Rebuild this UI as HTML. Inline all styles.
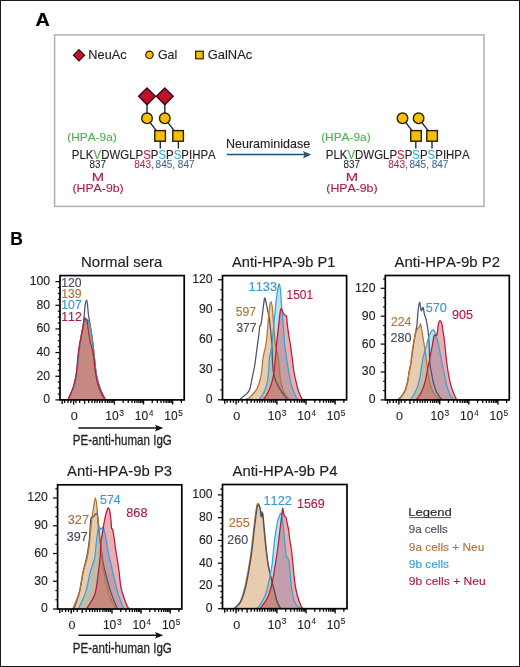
<!DOCTYPE html>
<html><head><meta charset="utf-8"><style>
html,body{margin:0;padding:0;background:#fff;}
body{width:520px;height:667px;overflow:hidden;}
svg{display:block;will-change:transform;font-family:"Liberation Sans",sans-serif;font-kerning:none;}
text{stroke:currentColor;}
</style></head><body>
<svg width="520" height="667" viewBox="0 0 520 667">
<rect x="0.5" y="0.5" width="519" height="666" fill="#fff" stroke="#1a1a1a" stroke-width="1"/>
<text x="35.61" y="25.60" font-size="18.60" fill="#000" color="#000" stroke-width="0.205" font-weight="bold" textLength="14.32" lengthAdjust="spacingAndGlyphs">A</text>
<rect x="54.6" y="34.9" width="429.4" height="171.5" fill="none" stroke="#b0b0b0" stroke-width="1.5"/>
<path d="M79 49.6 L84.6 55.2 L79 60.800000000000004 L73.4 55.2 Z" fill="#c0102e" stroke="#3a0a12" stroke-width="1.2"/>
<text x="88.35" y="58.60" font-size="12.40" fill="#231f20" color="#231f20" stroke-width="0.136" textLength="38.28" lengthAdjust="spacingAndGlyphs">NeuAc</text>
<circle cx="149.5" cy="54.8" r="3.7" fill="#f6c000" stroke="#2a1c08" stroke-width="1.2"/>
<text x="157.98" y="58.60" font-size="12.40" fill="#231f20" color="#231f20" stroke-width="0.136" textLength="19.25" lengthAdjust="spacingAndGlyphs">Gal</text>
<rect x="195.65" y="51.20" width="7.6" height="7.6" fill="#f6c000" stroke="#2a1c08" stroke-width="1.2"/>
<text x="207.75" y="58.60" font-size="12.40" fill="#231f20" color="#231f20" stroke-width="0.136" textLength="44.49" lengthAdjust="spacingAndGlyphs">GalNAc</text>
<line x1="147.0" y1="100" x2="147.0" y2="114" stroke="#1d2a3a" stroke-width="1.4"/>
<line x1="164.8" y1="100" x2="164.8" y2="114" stroke="#1d2a3a" stroke-width="1.4"/>
<line x1="147.0" y1="118.3" x2="160.1" y2="135.9" stroke="#1d2a3a" stroke-width="1.4"/>
<line x1="164.8" y1="118.3" x2="178.1" y2="135.9" stroke="#1d2a3a" stroke-width="1.4"/>
<line x1="160.3" y1="140" x2="160.3" y2="148.6" stroke="#1d2a3a" stroke-width="1.4"/>
<line x1="178.4" y1="140" x2="178.4" y2="148.6" stroke="#1d2a3a" stroke-width="1.4"/>
<path d="M147.0 87.89999999999999 L155.4 96.3 L147.0 104.7 L138.6 96.3 Z" fill="#c0102e" stroke="#3a0a12" stroke-width="1.4"/>
<path d="M164.8 87.89999999999999 L173.20000000000002 96.3 L164.8 104.7 L156.4 96.3 Z" fill="#c0102e" stroke="#3a0a12" stroke-width="1.4"/>
<circle cx="147.0" cy="118.3" r="5.3" fill="#f6c000" stroke="#2a1c08" stroke-width="1.4"/>
<circle cx="164.8" cy="118.3" r="5.3" fill="#f6c000" stroke="#2a1c08" stroke-width="1.4"/>
<rect x="154.80" y="130.60" width="10.6" height="10.6" fill="#f6c000" stroke="#2a1c08" stroke-width="1.4"/>
<rect x="172.80" y="130.60" width="10.6" height="10.6" fill="#f6c000" stroke="#2a1c08" stroke-width="1.4"/>
<text x="67.26" y="140.90" font-size="11.20" fill="#52ad4f" color="#52ad4f" stroke-width="0.123" textLength="49.47" lengthAdjust="spacingAndGlyphs">(HPA-9a)</text>
<text x="71.86" y="158.6" font-size="12.0" fill="#231f20" color="#231f20" stroke-width="0.132" textLength="7.64" lengthAdjust="spacingAndGlyphs">P</text>
<text x="79.50" y="158.6" font-size="12.0" fill="#231f20" color="#231f20" stroke-width="0.132" textLength="6.37" lengthAdjust="spacingAndGlyphs">L</text>
<text x="85.87" y="158.6" font-size="12.0" fill="#231f20" color="#231f20" stroke-width="0.132" textLength="7.64" lengthAdjust="spacingAndGlyphs">K</text>
<text x="93.51" y="158.6" font-size="12.0" fill="#52ad4f" color="#52ad4f" stroke-width="0.132" textLength="7.64" lengthAdjust="spacingAndGlyphs">V</text>
<text x="101.15" y="158.6" font-size="12.0" fill="#231f20" color="#231f20" stroke-width="0.132" textLength="8.27" lengthAdjust="spacingAndGlyphs">D</text>
<text x="109.42" y="158.6" font-size="12.0" fill="#231f20" color="#231f20" stroke-width="0.132" textLength="10.81" lengthAdjust="spacingAndGlyphs">W</text>
<text x="120.23" y="158.6" font-size="12.0" fill="#231f20" color="#231f20" stroke-width="0.132" textLength="8.91" lengthAdjust="spacingAndGlyphs">G</text>
<text x="129.14" y="158.6" font-size="12.0" fill="#231f20" color="#231f20" stroke-width="0.132" textLength="6.37" lengthAdjust="spacingAndGlyphs">L</text>
<text x="135.51" y="158.6" font-size="12.0" fill="#231f20" color="#231f20" stroke-width="0.132" textLength="7.64" lengthAdjust="spacingAndGlyphs">P</text>
<text x="143.15" y="158.6" font-size="12.0" fill="#bf2c4c" color="#bf2c4c" stroke-width="0.132" textLength="7.64" lengthAdjust="spacingAndGlyphs">S</text>
<text x="150.79" y="158.6" font-size="12.0" fill="#231f20" color="#231f20" stroke-width="0.132" textLength="7.64" lengthAdjust="spacingAndGlyphs">P</text>
<text x="158.43" y="158.6" font-size="12.0" fill="#44abd8" color="#44abd8" stroke-width="0.132" textLength="7.64" lengthAdjust="spacingAndGlyphs">S</text>
<text x="166.07" y="158.6" font-size="12.0" fill="#231f20" color="#231f20" stroke-width="0.132" textLength="7.64" lengthAdjust="spacingAndGlyphs">P</text>
<text x="173.71" y="158.6" font-size="12.0" fill="#44abd8" color="#44abd8" stroke-width="0.132" textLength="7.64" lengthAdjust="spacingAndGlyphs">S</text>
<text x="181.35" y="158.6" font-size="12.0" fill="#231f20" color="#231f20" stroke-width="0.132" textLength="7.64" lengthAdjust="spacingAndGlyphs">P</text>
<text x="188.99" y="158.6" font-size="12.0" fill="#231f20" color="#231f20" stroke-width="0.132" textLength="3.18" lengthAdjust="spacingAndGlyphs">I</text>
<text x="192.17" y="158.6" font-size="12.0" fill="#231f20" color="#231f20" stroke-width="0.132" textLength="8.27" lengthAdjust="spacingAndGlyphs">H</text>
<text x="200.44" y="158.6" font-size="12.0" fill="#231f20" color="#231f20" stroke-width="0.132" textLength="7.64" lengthAdjust="spacingAndGlyphs">P</text>
<text x="208.08" y="158.6" font-size="12.0" fill="#231f20" color="#231f20" stroke-width="0.132" textLength="7.64" lengthAdjust="spacingAndGlyphs">A</text>
<text x="89.57" y="168.30" font-size="10.20" fill="#231f20" color="#231f20" stroke-width="0.060" textLength="16.53" lengthAdjust="spacingAndGlyphs">837</text>
<text x="134.26" y="168.30" font-size="10.20" fill="#bb2a4c" color="#bb2a4c" stroke-width="0.060" textLength="19.65" lengthAdjust="spacingAndGlyphs">843,</text>
<text x="155.57" y="168.30" font-size="10.20" fill="#3d6690" color="#3d6690" stroke-width="0.060" textLength="38.94" lengthAdjust="spacingAndGlyphs">845, 847</text>
<text x="91.89" y="181.10" font-size="11.20" fill="#aa1c44" color="#aa1c44" stroke-width="0.123" textLength="12.33" lengthAdjust="spacingAndGlyphs">M</text>
<text x="72.44" y="191.70" font-size="11.40" fill="#aa1c44" color="#aa1c44" stroke-width="0.125" textLength="51.22" lengthAdjust="spacingAndGlyphs">(HPA-9b)</text>
<line x1="402.5" y1="118.3" x2="416.0" y2="135.9" stroke="#1d2a3a" stroke-width="1.4"/>
<line x1="418.6" y1="118.3" x2="432.1" y2="135.9" stroke="#1d2a3a" stroke-width="1.4"/>
<line x1="415.8" y1="140" x2="415.8" y2="148.6" stroke="#1d2a3a" stroke-width="1.4"/>
<line x1="432.0" y1="140" x2="432.0" y2="148.6" stroke="#1d2a3a" stroke-width="1.4"/>
<circle cx="402.5" cy="118.3" r="5.3" fill="#f6c000" stroke="#2a1c08" stroke-width="1.4"/>
<circle cx="418.6" cy="118.3" r="5.3" fill="#f6c000" stroke="#2a1c08" stroke-width="1.4"/>
<rect x="410.70" y="130.60" width="10.6" height="10.6" fill="#f6c000" stroke="#2a1c08" stroke-width="1.4"/>
<rect x="426.80" y="130.60" width="10.6" height="10.6" fill="#f6c000" stroke="#2a1c08" stroke-width="1.4"/>
<text x="321.16" y="140.90" font-size="11.20" fill="#52ad4f" color="#52ad4f" stroke-width="0.123" textLength="49.47" lengthAdjust="spacingAndGlyphs">(HPA-9a)</text>
<text x="325.76" y="158.6" font-size="12.0" fill="#231f20" color="#231f20" stroke-width="0.132" textLength="7.64" lengthAdjust="spacingAndGlyphs">P</text>
<text x="333.40" y="158.6" font-size="12.0" fill="#231f20" color="#231f20" stroke-width="0.132" textLength="6.37" lengthAdjust="spacingAndGlyphs">L</text>
<text x="339.77" y="158.6" font-size="12.0" fill="#231f20" color="#231f20" stroke-width="0.132" textLength="7.64" lengthAdjust="spacingAndGlyphs">K</text>
<text x="347.41" y="158.6" font-size="12.0" fill="#52ad4f" color="#52ad4f" stroke-width="0.132" textLength="7.64" lengthAdjust="spacingAndGlyphs">V</text>
<text x="355.05" y="158.6" font-size="12.0" fill="#231f20" color="#231f20" stroke-width="0.132" textLength="8.27" lengthAdjust="spacingAndGlyphs">D</text>
<text x="363.32" y="158.6" font-size="12.0" fill="#231f20" color="#231f20" stroke-width="0.132" textLength="10.81" lengthAdjust="spacingAndGlyphs">W</text>
<text x="374.13" y="158.6" font-size="12.0" fill="#231f20" color="#231f20" stroke-width="0.132" textLength="8.91" lengthAdjust="spacingAndGlyphs">G</text>
<text x="383.04" y="158.6" font-size="12.0" fill="#231f20" color="#231f20" stroke-width="0.132" textLength="6.37" lengthAdjust="spacingAndGlyphs">L</text>
<text x="389.41" y="158.6" font-size="12.0" fill="#231f20" color="#231f20" stroke-width="0.132" textLength="7.64" lengthAdjust="spacingAndGlyphs">P</text>
<text x="397.05" y="158.6" font-size="12.0" fill="#bf2c4c" color="#bf2c4c" stroke-width="0.132" textLength="7.64" lengthAdjust="spacingAndGlyphs">S</text>
<text x="404.69" y="158.6" font-size="12.0" fill="#231f20" color="#231f20" stroke-width="0.132" textLength="7.64" lengthAdjust="spacingAndGlyphs">P</text>
<text x="412.33" y="158.6" font-size="12.0" fill="#44abd8" color="#44abd8" stroke-width="0.132" textLength="7.64" lengthAdjust="spacingAndGlyphs">S</text>
<text x="419.97" y="158.6" font-size="12.0" fill="#231f20" color="#231f20" stroke-width="0.132" textLength="7.64" lengthAdjust="spacingAndGlyphs">P</text>
<text x="427.61" y="158.6" font-size="12.0" fill="#44abd8" color="#44abd8" stroke-width="0.132" textLength="7.64" lengthAdjust="spacingAndGlyphs">S</text>
<text x="435.25" y="158.6" font-size="12.0" fill="#231f20" color="#231f20" stroke-width="0.132" textLength="7.64" lengthAdjust="spacingAndGlyphs">P</text>
<text x="442.89" y="158.6" font-size="12.0" fill="#231f20" color="#231f20" stroke-width="0.132" textLength="3.18" lengthAdjust="spacingAndGlyphs">I</text>
<text x="446.07" y="158.6" font-size="12.0" fill="#231f20" color="#231f20" stroke-width="0.132" textLength="8.27" lengthAdjust="spacingAndGlyphs">H</text>
<text x="454.34" y="158.6" font-size="12.0" fill="#231f20" color="#231f20" stroke-width="0.132" textLength="7.64" lengthAdjust="spacingAndGlyphs">P</text>
<text x="461.98" y="158.6" font-size="12.0" fill="#231f20" color="#231f20" stroke-width="0.132" textLength="7.64" lengthAdjust="spacingAndGlyphs">A</text>
<text x="343.47" y="168.30" font-size="10.20" fill="#231f20" color="#231f20" stroke-width="0.060" textLength="16.53" lengthAdjust="spacingAndGlyphs">837</text>
<text x="388.16" y="168.30" font-size="10.20" fill="#bb2a4c" color="#bb2a4c" stroke-width="0.060" textLength="19.65" lengthAdjust="spacingAndGlyphs">843,</text>
<text x="409.47" y="168.30" font-size="10.20" fill="#3d6690" color="#3d6690" stroke-width="0.060" textLength="38.94" lengthAdjust="spacingAndGlyphs">845, 847</text>
<text x="345.79" y="181.10" font-size="11.20" fill="#aa1c44" color="#aa1c44" stroke-width="0.123" textLength="12.33" lengthAdjust="spacingAndGlyphs">M</text>
<text x="326.34" y="191.70" font-size="11.40" fill="#aa1c44" color="#aa1c44" stroke-width="0.125" textLength="51.22" lengthAdjust="spacingAndGlyphs">(HPA-9b)</text>
<text x="225.97" y="148.10" font-size="12.80" fill="#231f20" color="#231f20" stroke-width="0.141" textLength="84.18" lengthAdjust="spacingAndGlyphs">Neuraminidase</text>
<line x1="226.8" y1="154.5" x2="306" y2="154.5" stroke="#1f4e79" stroke-width="1.6"/>
<path d="M302.6 150.9 L311.2 154.5 L302.8 158.5 L304.9 154.5 Z" fill="#1f4e79"/>
<text x="10.14" y="244.80" font-size="18.40" fill="#000" color="#000" stroke-width="0.202" font-weight="bold" textLength="12.55" lengthAdjust="spacingAndGlyphs">B</text>
<path d="M68.40 399.90 C68.88 398.77 70.33 395.52 71.30 393.10 C72.27 390.68 73.32 388.62 74.20 385.40 C75.08 382.18 75.95 378.13 76.60 373.80 C77.25 369.47 77.65 363.53 78.10 359.40 C78.55 355.27 78.85 352.40 79.30 349.00 C79.75 345.60 80.25 342.33 80.80 339.00 C81.35 335.67 82.00 331.83 82.60 329.00 C83.20 326.17 83.87 323.57 84.40 322.00 C84.93 320.43 85.37 320.07 85.80 319.60 C86.23 319.13 86.60 319.05 87.00 319.20 C87.40 319.35 87.83 319.70 88.20 320.50 C88.57 321.30 88.83 322.25 89.20 324.00 C89.57 325.75 89.97 328.33 90.40 331.00 C90.83 333.67 91.33 336.83 91.80 340.00 C92.27 343.17 92.73 346.33 93.20 350.00 C93.67 353.67 94.12 357.92 94.60 362.00 C95.08 366.08 95.45 370.57 96.10 374.50 C96.75 378.43 97.62 382.50 98.50 385.60 C99.38 388.70 100.32 390.72 101.40 393.10 C102.48 395.48 104.40 398.77 105.00 399.90 L105.00 399.90 L68.40 399.90 Z" fill="rgba(80,180,230,0.38)" stroke="none"/>
<path d="M68.80 399.90 C69.27 398.77 70.65 395.52 71.60 393.10 C72.55 390.68 73.62 388.62 74.50 385.40 C75.38 382.18 76.25 378.13 76.90 373.80 C77.55 369.47 77.95 363.53 78.40 359.40 C78.85 355.27 79.17 352.57 79.60 349.00 C80.03 345.43 80.47 341.50 81.00 338.00 C81.53 334.50 82.20 330.58 82.80 328.00 C83.40 325.42 84.02 323.75 84.60 322.50 C85.18 321.25 85.75 320.87 86.30 320.50 C86.85 320.13 87.40 319.88 87.90 320.30 C88.40 320.72 88.90 321.88 89.30 323.00 C89.70 324.12 89.92 325.00 90.30 327.00 C90.68 329.00 91.17 332.17 91.60 335.00 C92.03 337.83 92.42 340.17 92.90 344.00 C93.38 347.83 93.95 353.03 94.50 358.00 C95.05 362.97 95.50 369.23 96.20 373.80 C96.90 378.37 97.77 382.18 98.70 385.40 C99.63 388.62 100.67 390.68 101.80 393.10 C102.93 395.52 104.88 398.77 105.50 399.90 L105.50 399.90 L68.80 399.90 Z" fill="rgba(200,140,75,0.44)" stroke="none"/>
<path d="M67.80 399.90 C68.32 398.77 69.90 395.52 70.90 393.10 C71.90 390.68 72.92 388.62 73.80 385.40 C74.68 382.18 75.55 378.13 76.20 373.80 C76.85 369.47 77.22 363.82 77.70 359.40 C78.18 354.98 78.50 351.23 79.10 347.30 C79.70 343.37 80.65 339.18 81.30 335.80 C81.95 332.42 82.47 329.92 83.00 327.00 C83.53 324.08 84.00 319.55 84.50 318.30 C85.00 317.05 85.55 319.08 86.00 319.50 C86.45 319.92 86.88 319.55 87.20 320.80 C87.52 322.05 87.57 324.50 87.90 327.00 C88.23 329.50 88.77 333.15 89.20 335.80 C89.63 338.45 89.98 340.68 90.50 342.90 C91.02 345.12 91.75 346.58 92.30 349.10 C92.85 351.62 93.23 353.88 93.80 358.00 C94.37 362.12 94.97 369.23 95.70 373.80 C96.43 378.37 97.28 382.18 98.20 385.40 C99.12 388.62 100.02 390.68 101.20 393.10 C102.38 395.52 104.62 398.77 105.30 399.90 L105.30 399.90 L67.80 399.90 Z" fill="rgba(205,72,80,0.44)" stroke="none"/>
<path d="M68.20 399.90 C68.68 398.77 70.13 395.52 71.10 393.10 C72.07 390.68 73.12 388.62 74.00 385.40 C74.88 382.18 75.75 378.13 76.40 373.80 C77.05 369.47 77.47 363.52 77.90 359.40 C78.33 355.28 78.58 352.30 79.00 349.10 C79.42 345.90 79.88 343.15 80.40 340.20 C80.92 337.25 81.58 334.35 82.10 331.40 C82.62 328.45 83.12 325.45 83.50 322.50 C83.88 319.55 84.12 316.65 84.40 313.70 C84.68 310.75 84.83 307.05 85.20 304.80 C85.57 302.55 86.22 300.20 86.60 300.20 C86.98 300.20 87.22 302.55 87.50 304.80 C87.78 307.05 88.02 311.33 88.30 313.70 C88.58 316.07 88.83 316.78 89.20 319.00 C89.57 321.22 90.05 324.20 90.50 327.00 C90.95 329.80 91.45 332.70 91.90 335.80 C92.35 338.90 92.75 341.67 93.20 345.60 C93.65 349.53 94.08 354.70 94.60 359.40 C95.12 364.10 95.53 369.47 96.30 373.80 C97.07 378.13 98.22 382.18 99.20 385.40 C100.18 388.62 101.15 390.68 102.20 393.10 C103.25 395.52 104.95 398.77 105.50 399.90" fill="none" stroke="#4a5068" stroke-width="1.25" stroke-linejoin="round"/>
<path d="M68.80 399.90 C69.27 398.77 70.65 395.52 71.60 393.10 C72.55 390.68 73.62 388.62 74.50 385.40 C75.38 382.18 76.25 378.13 76.90 373.80 C77.55 369.47 77.95 363.53 78.40 359.40 C78.85 355.27 79.17 352.57 79.60 349.00 C80.03 345.43 80.47 341.50 81.00 338.00 C81.53 334.50 82.20 330.58 82.80 328.00 C83.40 325.42 84.02 323.75 84.60 322.50 C85.18 321.25 85.75 320.87 86.30 320.50 C86.85 320.13 87.40 319.88 87.90 320.30 C88.40 320.72 88.90 321.88 89.30 323.00 C89.70 324.12 89.92 325.00 90.30 327.00 C90.68 329.00 91.17 332.17 91.60 335.00 C92.03 337.83 92.42 340.17 92.90 344.00 C93.38 347.83 93.95 353.03 94.50 358.00 C95.05 362.97 95.50 369.23 96.20 373.80 C96.90 378.37 97.77 382.18 98.70 385.40 C99.63 388.62 100.67 390.68 101.80 393.10 C102.93 395.52 104.88 398.77 105.50 399.90" fill="none" stroke="#b8742e" stroke-width="1.25" stroke-linejoin="round"/>
<path d="M68.40 399.90 C68.88 398.77 70.33 395.52 71.30 393.10 C72.27 390.68 73.32 388.62 74.20 385.40 C75.08 382.18 75.95 378.13 76.60 373.80 C77.25 369.47 77.65 363.53 78.10 359.40 C78.55 355.27 78.85 352.40 79.30 349.00 C79.75 345.60 80.25 342.33 80.80 339.00 C81.35 335.67 82.00 331.83 82.60 329.00 C83.20 326.17 83.87 323.57 84.40 322.00 C84.93 320.43 85.37 320.07 85.80 319.60 C86.23 319.13 86.60 319.05 87.00 319.20 C87.40 319.35 87.83 319.70 88.20 320.50 C88.57 321.30 88.83 322.25 89.20 324.00 C89.57 325.75 89.97 328.33 90.40 331.00 C90.83 333.67 91.33 336.83 91.80 340.00 C92.27 343.17 92.73 346.33 93.20 350.00 C93.67 353.67 94.12 357.92 94.60 362.00 C95.08 366.08 95.45 370.57 96.10 374.50 C96.75 378.43 97.62 382.50 98.50 385.60 C99.38 388.70 100.32 390.72 101.40 393.10 C102.48 395.48 104.40 398.77 105.00 399.90" fill="none" stroke="#3aa2d2" stroke-width="1.25" stroke-linejoin="round"/>
<path d="M67.80 399.90 C68.32 398.77 69.90 395.52 70.90 393.10 C71.90 390.68 72.92 388.62 73.80 385.40 C74.68 382.18 75.55 378.13 76.20 373.80 C76.85 369.47 77.22 363.82 77.70 359.40 C78.18 354.98 78.50 351.23 79.10 347.30 C79.70 343.37 80.65 339.18 81.30 335.80 C81.95 332.42 82.47 329.92 83.00 327.00 C83.53 324.08 84.00 319.55 84.50 318.30 C85.00 317.05 85.55 319.08 86.00 319.50 C86.45 319.92 86.88 319.55 87.20 320.80 C87.52 322.05 87.57 324.50 87.90 327.00 C88.23 329.50 88.77 333.15 89.20 335.80 C89.63 338.45 89.98 340.68 90.50 342.90 C91.02 345.12 91.75 346.58 92.30 349.10 C92.85 351.62 93.23 353.88 93.80 358.00 C94.37 362.12 94.97 369.23 95.70 373.80 C96.43 378.37 97.28 382.18 98.20 385.40 C99.12 388.62 100.02 390.68 101.20 393.10 C102.38 395.52 104.62 398.77 105.30 399.90" fill="none" stroke="#b81c3c" stroke-width="1.25" stroke-linejoin="round"/>
<rect x="60.0" y="275.6" width="124.19999999999999" height="124.29999999999995" fill="none" stroke="#000" stroke-width="1.7"/>
<line x1="55.4" y1="399.90" x2="60.0" y2="399.90" stroke="#000" stroke-width="1.2"/>
<line x1="57.8" y1="393.98" x2="60.0" y2="393.98" stroke="#000" stroke-width="1.2"/>
<line x1="57.8" y1="388.07" x2="60.0" y2="388.07" stroke="#000" stroke-width="1.2"/>
<line x1="57.8" y1="382.15" x2="60.0" y2="382.15" stroke="#000" stroke-width="1.2"/>
<line x1="55.4" y1="376.24" x2="60.0" y2="376.24" stroke="#000" stroke-width="1.2"/>
<line x1="57.8" y1="370.32" x2="60.0" y2="370.32" stroke="#000" stroke-width="1.2"/>
<line x1="57.8" y1="364.41" x2="60.0" y2="364.41" stroke="#000" stroke-width="1.2"/>
<line x1="57.8" y1="358.50" x2="60.0" y2="358.50" stroke="#000" stroke-width="1.2"/>
<line x1="55.4" y1="352.58" x2="60.0" y2="352.58" stroke="#000" stroke-width="1.2"/>
<line x1="57.8" y1="346.66" x2="60.0" y2="346.66" stroke="#000" stroke-width="1.2"/>
<line x1="57.8" y1="340.75" x2="60.0" y2="340.75" stroke="#000" stroke-width="1.2"/>
<line x1="57.8" y1="334.83" x2="60.0" y2="334.83" stroke="#000" stroke-width="1.2"/>
<line x1="55.4" y1="328.92" x2="60.0" y2="328.92" stroke="#000" stroke-width="1.2"/>
<line x1="57.8" y1="323.00" x2="60.0" y2="323.00" stroke="#000" stroke-width="1.2"/>
<line x1="57.8" y1="317.09" x2="60.0" y2="317.09" stroke="#000" stroke-width="1.2"/>
<line x1="57.8" y1="311.17" x2="60.0" y2="311.17" stroke="#000" stroke-width="1.2"/>
<line x1="55.4" y1="305.26" x2="60.0" y2="305.26" stroke="#000" stroke-width="1.2"/>
<line x1="57.8" y1="299.34" x2="60.0" y2="299.34" stroke="#000" stroke-width="1.2"/>
<line x1="57.8" y1="293.43" x2="60.0" y2="293.43" stroke="#000" stroke-width="1.2"/>
<line x1="57.8" y1="287.51" x2="60.0" y2="287.51" stroke="#000" stroke-width="1.2"/>
<line x1="55.4" y1="281.60" x2="60.0" y2="281.60" stroke="#000" stroke-width="1.2"/>
<text x="43.37" y="403.30" font-size="12.00" fill="#231f20" color="#231f20" stroke-width="0.132" textLength="6.81" lengthAdjust="spacingAndGlyphs">0</text>
<text x="36.56" y="379.64" font-size="12.00" fill="#231f20" color="#231f20" stroke-width="0.132" textLength="13.61" lengthAdjust="spacingAndGlyphs">20</text>
<text x="36.56" y="355.98" font-size="12.00" fill="#231f20" color="#231f20" stroke-width="0.132" textLength="13.61" lengthAdjust="spacingAndGlyphs">40</text>
<text x="36.56" y="332.32" font-size="12.00" fill="#231f20" color="#231f20" stroke-width="0.132" textLength="13.61" lengthAdjust="spacingAndGlyphs">60</text>
<text x="36.56" y="308.66" font-size="12.00" fill="#231f20" color="#231f20" stroke-width="0.132" textLength="13.61" lengthAdjust="spacingAndGlyphs">80</text>
<text x="29.76" y="285.00" font-size="12.00" fill="#231f20" color="#231f20" stroke-width="0.132" textLength="20.42" lengthAdjust="spacingAndGlyphs">100</text>
<line x1="64.60" y1="399.9" x2="64.60" y2="402.9" stroke="#000" stroke-width="1.3"/>
<line x1="68.00" y1="399.9" x2="68.00" y2="402.9" stroke="#000" stroke-width="1.3"/>
<line x1="70.90" y1="399.9" x2="70.90" y2="402.9" stroke="#000" stroke-width="1.3"/>
<line x1="76.00" y1="399.9" x2="76.00" y2="402.9" stroke="#000" stroke-width="1.3"/>
<line x1="79.60" y1="399.9" x2="79.60" y2="402.9" stroke="#000" stroke-width="1.3"/>
<line x1="88.60" y1="399.9" x2="88.60" y2="402.9" stroke="#000" stroke-width="1.3"/>
<line x1="92.00" y1="399.9" x2="92.00" y2="402.9" stroke="#000" stroke-width="1.3"/>
<line x1="94.80" y1="399.9" x2="94.80" y2="402.9" stroke="#000" stroke-width="1.3"/>
<line x1="97.20" y1="399.9" x2="97.20" y2="402.9" stroke="#000" stroke-width="1.3"/>
<line x1="99.70" y1="399.9" x2="99.70" y2="402.9" stroke="#000" stroke-width="1.3"/>
<line x1="102.20" y1="399.9" x2="102.20" y2="402.9" stroke="#000" stroke-width="1.3"/>
<line x1="105.20" y1="399.9" x2="105.20" y2="402.9" stroke="#000" stroke-width="1.3"/>
<line x1="107.40" y1="399.9" x2="107.40" y2="402.9" stroke="#000" stroke-width="1.3"/>
<line x1="109.20" y1="399.9" x2="109.20" y2="402.9" stroke="#000" stroke-width="1.3"/>
<line x1="111.10" y1="399.9" x2="111.10" y2="402.9" stroke="#000" stroke-width="1.3"/>
<line x1="112.80" y1="399.9" x2="112.80" y2="402.9" stroke="#000" stroke-width="1.3"/>
<line x1="123.16" y1="399.9" x2="123.16" y2="402.9" stroke="#000" stroke-width="1.3"/>
<line x1="128.28" y1="399.9" x2="128.28" y2="402.9" stroke="#000" stroke-width="1.3"/>
<line x1="131.92" y1="399.9" x2="131.92" y2="402.9" stroke="#000" stroke-width="1.3"/>
<line x1="134.74" y1="399.9" x2="134.74" y2="402.9" stroke="#000" stroke-width="1.3"/>
<line x1="137.04" y1="399.9" x2="137.04" y2="402.9" stroke="#000" stroke-width="1.3"/>
<line x1="138.99" y1="399.9" x2="138.99" y2="402.9" stroke="#000" stroke-width="1.3"/>
<line x1="140.68" y1="399.9" x2="140.68" y2="402.9" stroke="#000" stroke-width="1.3"/>
<line x1="142.17" y1="399.9" x2="142.17" y2="402.9" stroke="#000" stroke-width="1.3"/>
<line x1="152.26" y1="399.9" x2="152.26" y2="402.9" stroke="#000" stroke-width="1.3"/>
<line x1="157.38" y1="399.9" x2="157.38" y2="402.9" stroke="#000" stroke-width="1.3"/>
<line x1="161.02" y1="399.9" x2="161.02" y2="402.9" stroke="#000" stroke-width="1.3"/>
<line x1="163.84" y1="399.9" x2="163.84" y2="402.9" stroke="#000" stroke-width="1.3"/>
<line x1="166.14" y1="399.9" x2="166.14" y2="402.9" stroke="#000" stroke-width="1.3"/>
<line x1="168.09" y1="399.9" x2="168.09" y2="402.9" stroke="#000" stroke-width="1.3"/>
<line x1="169.78" y1="399.9" x2="169.78" y2="402.9" stroke="#000" stroke-width="1.3"/>
<line x1="171.27" y1="399.9" x2="171.27" y2="402.9" stroke="#000" stroke-width="1.3"/>
<line x1="181.36" y1="399.9" x2="181.36" y2="402.9" stroke="#000" stroke-width="1.3"/>
<line x1="73.60" y1="399.9" x2="73.60" y2="404.5" stroke="#000" stroke-width="1.4"/>
<line x1="114.40" y1="399.9" x2="114.40" y2="404.5" stroke="#000" stroke-width="1.4"/>
<line x1="143.50" y1="399.9" x2="143.50" y2="404.5" stroke="#000" stroke-width="1.4"/>
<line x1="172.60" y1="399.9" x2="172.60" y2="404.5" stroke="#000" stroke-width="1.4"/>
<line x1="62.20" y1="399.9" x2="62.20" y2="403.9" stroke="#000" stroke-width="1.3"/>
<line x1="84.60" y1="399.9" x2="84.60" y2="403.9" stroke="#000" stroke-width="1.3"/>
<text x="70.81" y="420.20" font-size="11.60" fill="#231f20" color="#231f20" stroke-width="0.128" textLength="6.98" lengthAdjust="spacingAndGlyphs">0</text>
<text x="105.28" y="420.20" font-size="12.40" fill="#231f20" color="#231f20" stroke-width="0.136" textLength="13.39" lengthAdjust="spacingAndGlyphs">10</text>
<text x="119.28" y="415.60" font-size="9.00" fill="#231f20" color="#231f20" stroke-width="0.099" textLength="4.69" lengthAdjust="spacingAndGlyphs">3</text>
<text x="134.78" y="420.20" font-size="12.40" fill="#231f20" color="#231f20" stroke-width="0.136" textLength="13.39" lengthAdjust="spacingAndGlyphs">10</text>
<text x="148.92" y="415.60" font-size="9.00" fill="#231f20" color="#231f20" stroke-width="0.099" textLength="4.41" lengthAdjust="spacingAndGlyphs">4</text>
<text x="164.28" y="420.20" font-size="12.40" fill="#231f20" color="#231f20" stroke-width="0.136" textLength="13.39" lengthAdjust="spacingAndGlyphs">10</text>
<text x="178.26" y="415.60" font-size="9.00" fill="#231f20" color="#231f20" stroke-width="0.099" textLength="4.69" lengthAdjust="spacingAndGlyphs">5</text>
<line x1="78.4" y1="428.1" x2="157" y2="428.1" stroke="#111" stroke-width="1.5"/>
<path d="M155.0 424.8 L163.3 428.1 L155.0 431.40000000000003 L156.6 428.1 Z" fill="#111"/>
<text x="72.80" y="445.40" font-size="14.80" fill="#231f20" color="#231f20" stroke-width="0.300" textLength="99.06" lengthAdjust="spacingAndGlyphs">PE-anti-human IgG</text>
<text x="61.27" y="286.90" font-size="12.00" fill="#464a5a" color="#464a5a" stroke-width="0.132" textLength="20.30" lengthAdjust="spacingAndGlyphs">120</text>
<text x="61.27" y="298.10" font-size="12.00" fill="#ad733a" color="#ad733a" stroke-width="0.132" textLength="20.41" lengthAdjust="spacingAndGlyphs">139</text>
<text x="61.27" y="309.20" font-size="12.00" fill="#379bca" color="#379bca" stroke-width="0.132" textLength="20.45" lengthAdjust="spacingAndGlyphs">107</text>
<text x="61.27" y="320.80" font-size="12.00" fill="#aa1c44" color="#aa1c44" stroke-width="0.132" textLength="20.45" lengthAdjust="spacingAndGlyphs">112</text>
<text x="81.08" y="266.50" font-size="15.00" fill="#231f20" color="#231f20" stroke-width="0.165" textLength="81.22" lengthAdjust="spacingAndGlyphs">Normal sera</text>
<path d="M259.00 399.80 C259.60 398.97 261.50 396.73 262.60 394.80 C263.70 392.87 264.80 390.50 265.60 388.20 C266.40 385.90 266.90 383.70 267.40 381.00 C267.90 378.30 268.30 375.50 268.60 372.00 C268.90 368.50 268.87 363.33 269.20 360.00 C269.53 356.67 270.15 354.57 270.60 352.00 C271.05 349.43 271.48 347.95 271.90 344.60 C272.32 341.25 272.62 336.90 273.10 331.90 C273.58 326.90 274.23 320.37 274.80 314.60 C275.37 308.83 275.92 301.92 276.50 297.30 C277.08 292.68 277.82 289.08 278.30 286.90 C278.78 284.72 279.02 283.43 279.40 284.20 C279.78 284.97 280.27 288.35 280.60 291.50 C280.93 294.65 281.12 299.25 281.40 303.10 C281.68 306.95 281.95 310.37 282.30 314.60 C282.65 318.83 283.12 323.50 283.50 328.50 C283.88 333.50 284.27 341.02 284.60 344.60 C284.93 348.18 285.10 347.22 285.50 350.00 C285.90 352.78 286.43 357.55 287.00 361.30 C287.57 365.05 288.22 368.75 288.90 372.50 C289.58 376.25 290.28 380.55 291.10 383.80 C291.92 387.05 292.85 389.63 293.80 392.00 C294.75 394.37 295.93 396.70 296.80 398.00 C297.67 399.30 298.63 399.50 299.00 399.80 L299.00 399.80 L259.00 399.80 Z" fill="rgba(80,180,230,0.38)" stroke="none"/>
<path d="M245.00 399.80 C245.80 399.37 248.30 398.33 249.80 397.20 C251.30 396.07 252.77 394.50 254.00 393.00 C255.23 391.50 256.23 390.20 257.20 388.20 C258.17 386.20 259.07 383.70 259.80 381.00 C260.53 378.30 261.10 375.50 261.60 372.00 C262.10 368.50 262.37 363.33 262.80 360.00 C263.23 356.67 263.68 354.57 264.20 352.00 C264.72 349.43 265.38 347.95 265.90 344.60 C266.42 341.25 266.87 336.32 267.30 331.90 C267.73 327.48 268.12 322.33 268.50 318.10 C268.88 313.87 269.22 309.20 269.60 306.50 C269.98 303.80 270.37 301.90 270.80 301.90 C271.23 301.90 271.82 303.80 272.20 306.50 C272.58 309.20 272.77 313.87 273.10 318.10 C273.43 322.33 273.82 327.48 274.20 331.90 C274.58 336.32 274.87 341.08 275.40 344.60 C275.93 348.12 276.83 350.10 277.40 353.00 C277.97 355.90 278.37 358.17 278.80 362.00 C279.23 365.83 279.50 372.00 280.00 376.00 C280.50 380.00 280.97 383.00 281.80 386.00 C282.63 389.00 283.80 391.70 285.00 394.00 C286.20 396.30 288.33 398.83 289.00 399.80 L289.00 399.80 L245.00 399.80 Z" fill="rgba(200,140,75,0.44)" stroke="none"/>
<path d="M263.20 399.80 C263.80 398.97 265.70 396.73 266.80 394.80 C267.90 392.87 268.90 390.50 269.80 388.20 C270.70 385.90 271.50 383.70 272.20 381.00 C272.90 378.30 273.50 375.50 274.00 372.00 C274.50 368.50 274.87 363.33 275.20 360.00 C275.53 356.67 275.78 354.57 276.00 352.00 C276.22 349.43 276.12 348.52 276.50 344.60 C276.88 340.68 277.75 333.50 278.30 328.50 C278.85 323.50 279.32 317.97 279.80 314.60 C280.28 311.23 280.58 308.48 281.20 308.30 C281.82 308.12 282.73 312.25 283.50 313.50 C284.27 314.75 285.27 315.23 285.80 315.80 C286.33 316.37 286.42 315.17 286.70 316.90 C286.98 318.63 287.08 322.73 287.50 326.20 C287.92 329.67 288.72 334.63 289.20 337.70 C289.68 340.77 290.08 342.55 290.40 344.60 C290.72 346.65 290.73 347.22 291.10 350.00 C291.47 352.78 292.10 357.55 292.60 361.30 C293.10 365.05 293.53 369.13 294.10 372.50 C294.67 375.87 295.30 378.50 296.00 381.50 C296.70 384.50 297.30 387.62 298.30 390.50 C299.30 393.38 301.05 397.25 302.00 398.80 C302.95 400.35 303.67 399.63 304.00 399.80 L304.00 399.80 L263.20 399.80 Z" fill="rgba(205,72,80,0.44)" stroke="none"/>
<path d="M239.60 399.80 C240.20 399.27 242.00 397.63 243.20 396.60 C244.40 395.57 245.75 394.70 246.80 393.60 C247.85 392.50 248.80 391.60 249.50 390.00 C250.20 388.40 250.55 386.00 251.00 384.00 C251.45 382.00 251.80 380.00 252.20 378.00 C252.60 376.00 253.00 374.00 253.40 372.00 C253.80 370.00 254.25 368.00 254.60 366.00 C254.95 364.00 255.18 362.33 255.50 360.00 C255.82 357.67 256.17 354.57 256.50 352.00 C256.83 349.43 257.05 347.95 257.50 344.60 C257.95 341.25 258.82 334.97 259.20 331.90 C259.58 328.83 259.50 327.45 259.80 326.20 C260.10 324.95 260.62 325.95 261.00 324.40 C261.38 322.85 261.63 320.45 262.10 316.90 C262.57 313.35 263.35 306.27 263.80 303.10 C264.25 299.93 264.40 297.90 264.80 297.90 C265.20 297.90 265.78 301.28 266.20 303.10 C266.62 304.92 266.83 306.50 267.30 308.80 C267.77 311.10 268.52 314.00 269.00 316.90 C269.48 319.80 269.82 322.73 270.20 326.20 C270.58 329.67 271.00 334.07 271.30 337.70 C271.60 341.33 271.82 344.28 272.00 348.00 C272.18 351.72 272.17 356.00 272.40 360.00 C272.63 364.00 272.83 368.50 273.40 372.00 C273.97 375.50 274.80 378.30 275.80 381.00 C276.80 383.70 278.20 386.10 279.40 388.20 C280.60 390.30 281.90 392.10 283.00 393.60 C284.10 395.10 285.00 396.17 286.00 397.20 C287.00 398.23 288.50 399.37 289.00 399.80" fill="none" stroke="#4a5068" stroke-width="1.25" stroke-linejoin="round"/>
<path d="M245.00 399.80 C245.80 399.37 248.30 398.33 249.80 397.20 C251.30 396.07 252.77 394.50 254.00 393.00 C255.23 391.50 256.23 390.20 257.20 388.20 C258.17 386.20 259.07 383.70 259.80 381.00 C260.53 378.30 261.10 375.50 261.60 372.00 C262.10 368.50 262.37 363.33 262.80 360.00 C263.23 356.67 263.68 354.57 264.20 352.00 C264.72 349.43 265.38 347.95 265.90 344.60 C266.42 341.25 266.87 336.32 267.30 331.90 C267.73 327.48 268.12 322.33 268.50 318.10 C268.88 313.87 269.22 309.20 269.60 306.50 C269.98 303.80 270.37 301.90 270.80 301.90 C271.23 301.90 271.82 303.80 272.20 306.50 C272.58 309.20 272.77 313.87 273.10 318.10 C273.43 322.33 273.82 327.48 274.20 331.90 C274.58 336.32 274.87 341.08 275.40 344.60 C275.93 348.12 276.83 350.10 277.40 353.00 C277.97 355.90 278.37 358.17 278.80 362.00 C279.23 365.83 279.50 372.00 280.00 376.00 C280.50 380.00 280.97 383.00 281.80 386.00 C282.63 389.00 283.80 391.70 285.00 394.00 C286.20 396.30 288.33 398.83 289.00 399.80" fill="none" stroke="#b8742e" stroke-width="1.25" stroke-linejoin="round"/>
<path d="M259.00 399.80 C259.60 398.97 261.50 396.73 262.60 394.80 C263.70 392.87 264.80 390.50 265.60 388.20 C266.40 385.90 266.90 383.70 267.40 381.00 C267.90 378.30 268.30 375.50 268.60 372.00 C268.90 368.50 268.87 363.33 269.20 360.00 C269.53 356.67 270.15 354.57 270.60 352.00 C271.05 349.43 271.48 347.95 271.90 344.60 C272.32 341.25 272.62 336.90 273.10 331.90 C273.58 326.90 274.23 320.37 274.80 314.60 C275.37 308.83 275.92 301.92 276.50 297.30 C277.08 292.68 277.82 289.08 278.30 286.90 C278.78 284.72 279.02 283.43 279.40 284.20 C279.78 284.97 280.27 288.35 280.60 291.50 C280.93 294.65 281.12 299.25 281.40 303.10 C281.68 306.95 281.95 310.37 282.30 314.60 C282.65 318.83 283.12 323.50 283.50 328.50 C283.88 333.50 284.27 341.02 284.60 344.60 C284.93 348.18 285.10 347.22 285.50 350.00 C285.90 352.78 286.43 357.55 287.00 361.30 C287.57 365.05 288.22 368.75 288.90 372.50 C289.58 376.25 290.28 380.55 291.10 383.80 C291.92 387.05 292.85 389.63 293.80 392.00 C294.75 394.37 295.93 396.70 296.80 398.00 C297.67 399.30 298.63 399.50 299.00 399.80" fill="none" stroke="#3aa2d2" stroke-width="1.25" stroke-linejoin="round"/>
<path d="M263.20 399.80 C263.80 398.97 265.70 396.73 266.80 394.80 C267.90 392.87 268.90 390.50 269.80 388.20 C270.70 385.90 271.50 383.70 272.20 381.00 C272.90 378.30 273.50 375.50 274.00 372.00 C274.50 368.50 274.87 363.33 275.20 360.00 C275.53 356.67 275.78 354.57 276.00 352.00 C276.22 349.43 276.12 348.52 276.50 344.60 C276.88 340.68 277.75 333.50 278.30 328.50 C278.85 323.50 279.32 317.97 279.80 314.60 C280.28 311.23 280.58 308.48 281.20 308.30 C281.82 308.12 282.73 312.25 283.50 313.50 C284.27 314.75 285.27 315.23 285.80 315.80 C286.33 316.37 286.42 315.17 286.70 316.90 C286.98 318.63 287.08 322.73 287.50 326.20 C287.92 329.67 288.72 334.63 289.20 337.70 C289.68 340.77 290.08 342.55 290.40 344.60 C290.72 346.65 290.73 347.22 291.10 350.00 C291.47 352.78 292.10 357.55 292.60 361.30 C293.10 365.05 293.53 369.13 294.10 372.50 C294.67 375.87 295.30 378.50 296.00 381.50 C296.70 384.50 297.30 387.62 298.30 390.50 C299.30 393.38 301.05 397.25 302.00 398.80 C302.95 400.35 303.67 399.63 304.00 399.80" fill="none" stroke="#b81c3c" stroke-width="1.25" stroke-linejoin="round"/>
<rect x="222.5" y="275.6" width="124.10000000000002" height="124.19999999999999" fill="none" stroke="#000" stroke-width="1.7"/>
<line x1="217.9" y1="399.80" x2="222.5" y2="399.80" stroke="#000" stroke-width="1.2"/>
<line x1="220.3" y1="389.80" x2="222.5" y2="389.80" stroke="#000" stroke-width="1.2"/>
<line x1="220.3" y1="379.80" x2="222.5" y2="379.80" stroke="#000" stroke-width="1.2"/>
<line x1="217.9" y1="369.80" x2="222.5" y2="369.80" stroke="#000" stroke-width="1.2"/>
<line x1="220.3" y1="359.80" x2="222.5" y2="359.80" stroke="#000" stroke-width="1.2"/>
<line x1="220.3" y1="349.80" x2="222.5" y2="349.80" stroke="#000" stroke-width="1.2"/>
<line x1="217.9" y1="339.80" x2="222.5" y2="339.80" stroke="#000" stroke-width="1.2"/>
<line x1="220.3" y1="329.80" x2="222.5" y2="329.80" stroke="#000" stroke-width="1.2"/>
<line x1="220.3" y1="319.80" x2="222.5" y2="319.80" stroke="#000" stroke-width="1.2"/>
<line x1="217.9" y1="309.80" x2="222.5" y2="309.80" stroke="#000" stroke-width="1.2"/>
<line x1="220.3" y1="299.80" x2="222.5" y2="299.80" stroke="#000" stroke-width="1.2"/>
<line x1="220.3" y1="289.80" x2="222.5" y2="289.80" stroke="#000" stroke-width="1.2"/>
<line x1="217.9" y1="279.80" x2="222.5" y2="279.80" stroke="#000" stroke-width="1.2"/>
<text x="205.87" y="403.20" font-size="12.00" fill="#231f20" color="#231f20" stroke-width="0.132" textLength="6.81" lengthAdjust="spacingAndGlyphs">0</text>
<text x="199.06" y="373.20" font-size="12.00" fill="#231f20" color="#231f20" stroke-width="0.132" textLength="13.61" lengthAdjust="spacingAndGlyphs">30</text>
<text x="199.06" y="343.20" font-size="12.00" fill="#231f20" color="#231f20" stroke-width="0.132" textLength="13.61" lengthAdjust="spacingAndGlyphs">60</text>
<text x="199.06" y="313.20" font-size="12.00" fill="#231f20" color="#231f20" stroke-width="0.132" textLength="13.61" lengthAdjust="spacingAndGlyphs">90</text>
<text x="192.26" y="283.20" font-size="12.00" fill="#231f20" color="#231f20" stroke-width="0.132" textLength="20.42" lengthAdjust="spacingAndGlyphs">120</text>
<line x1="227.10" y1="399.8" x2="227.10" y2="402.8" stroke="#000" stroke-width="1.3"/>
<line x1="230.50" y1="399.8" x2="230.50" y2="402.8" stroke="#000" stroke-width="1.3"/>
<line x1="233.40" y1="399.8" x2="233.40" y2="402.8" stroke="#000" stroke-width="1.3"/>
<line x1="238.50" y1="399.8" x2="238.50" y2="402.8" stroke="#000" stroke-width="1.3"/>
<line x1="242.10" y1="399.8" x2="242.10" y2="402.8" stroke="#000" stroke-width="1.3"/>
<line x1="251.10" y1="399.8" x2="251.10" y2="402.8" stroke="#000" stroke-width="1.3"/>
<line x1="254.50" y1="399.8" x2="254.50" y2="402.8" stroke="#000" stroke-width="1.3"/>
<line x1="257.30" y1="399.8" x2="257.30" y2="402.8" stroke="#000" stroke-width="1.3"/>
<line x1="259.70" y1="399.8" x2="259.70" y2="402.8" stroke="#000" stroke-width="1.3"/>
<line x1="262.20" y1="399.8" x2="262.20" y2="402.8" stroke="#000" stroke-width="1.3"/>
<line x1="264.70" y1="399.8" x2="264.70" y2="402.8" stroke="#000" stroke-width="1.3"/>
<line x1="267.70" y1="399.8" x2="267.70" y2="402.8" stroke="#000" stroke-width="1.3"/>
<line x1="269.90" y1="399.8" x2="269.90" y2="402.8" stroke="#000" stroke-width="1.3"/>
<line x1="271.70" y1="399.8" x2="271.70" y2="402.8" stroke="#000" stroke-width="1.3"/>
<line x1="273.60" y1="399.8" x2="273.60" y2="402.8" stroke="#000" stroke-width="1.3"/>
<line x1="275.30" y1="399.8" x2="275.30" y2="402.8" stroke="#000" stroke-width="1.3"/>
<line x1="285.66" y1="399.8" x2="285.66" y2="402.8" stroke="#000" stroke-width="1.3"/>
<line x1="290.78" y1="399.8" x2="290.78" y2="402.8" stroke="#000" stroke-width="1.3"/>
<line x1="294.42" y1="399.8" x2="294.42" y2="402.8" stroke="#000" stroke-width="1.3"/>
<line x1="297.24" y1="399.8" x2="297.24" y2="402.8" stroke="#000" stroke-width="1.3"/>
<line x1="299.54" y1="399.8" x2="299.54" y2="402.8" stroke="#000" stroke-width="1.3"/>
<line x1="301.49" y1="399.8" x2="301.49" y2="402.8" stroke="#000" stroke-width="1.3"/>
<line x1="303.18" y1="399.8" x2="303.18" y2="402.8" stroke="#000" stroke-width="1.3"/>
<line x1="304.67" y1="399.8" x2="304.67" y2="402.8" stroke="#000" stroke-width="1.3"/>
<line x1="314.76" y1="399.8" x2="314.76" y2="402.8" stroke="#000" stroke-width="1.3"/>
<line x1="319.88" y1="399.8" x2="319.88" y2="402.8" stroke="#000" stroke-width="1.3"/>
<line x1="323.52" y1="399.8" x2="323.52" y2="402.8" stroke="#000" stroke-width="1.3"/>
<line x1="326.34" y1="399.8" x2="326.34" y2="402.8" stroke="#000" stroke-width="1.3"/>
<line x1="328.64" y1="399.8" x2="328.64" y2="402.8" stroke="#000" stroke-width="1.3"/>
<line x1="330.59" y1="399.8" x2="330.59" y2="402.8" stroke="#000" stroke-width="1.3"/>
<line x1="332.28" y1="399.8" x2="332.28" y2="402.8" stroke="#000" stroke-width="1.3"/>
<line x1="333.77" y1="399.8" x2="333.77" y2="402.8" stroke="#000" stroke-width="1.3"/>
<line x1="343.86" y1="399.8" x2="343.86" y2="402.8" stroke="#000" stroke-width="1.3"/>
<line x1="236.10" y1="399.8" x2="236.10" y2="404.40000000000003" stroke="#000" stroke-width="1.4"/>
<line x1="276.90" y1="399.8" x2="276.90" y2="404.40000000000003" stroke="#000" stroke-width="1.4"/>
<line x1="306.00" y1="399.8" x2="306.00" y2="404.40000000000003" stroke="#000" stroke-width="1.4"/>
<line x1="335.10" y1="399.8" x2="335.10" y2="404.40000000000003" stroke="#000" stroke-width="1.4"/>
<line x1="224.70" y1="399.8" x2="224.70" y2="403.8" stroke="#000" stroke-width="1.3"/>
<line x1="247.10" y1="399.8" x2="247.10" y2="403.8" stroke="#000" stroke-width="1.3"/>
<text x="233.31" y="420.10" font-size="11.60" fill="#231f20" color="#231f20" stroke-width="0.128" textLength="6.98" lengthAdjust="spacingAndGlyphs">0</text>
<text x="267.78" y="420.10" font-size="12.40" fill="#231f20" color="#231f20" stroke-width="0.136" textLength="13.39" lengthAdjust="spacingAndGlyphs">10</text>
<text x="281.78" y="415.50" font-size="9.00" fill="#231f20" color="#231f20" stroke-width="0.099" textLength="4.69" lengthAdjust="spacingAndGlyphs">3</text>
<text x="297.28" y="420.10" font-size="12.40" fill="#231f20" color="#231f20" stroke-width="0.136" textLength="13.39" lengthAdjust="spacingAndGlyphs">10</text>
<text x="311.42" y="415.50" font-size="9.00" fill="#231f20" color="#231f20" stroke-width="0.099" textLength="4.41" lengthAdjust="spacingAndGlyphs">4</text>
<text x="326.78" y="420.10" font-size="12.40" fill="#231f20" color="#231f20" stroke-width="0.136" textLength="13.39" lengthAdjust="spacingAndGlyphs">10</text>
<text x="340.76" y="415.50" font-size="9.00" fill="#231f20" color="#231f20" stroke-width="0.099" textLength="4.69" lengthAdjust="spacingAndGlyphs">5</text>
<text x="248.63" y="290.80" font-size="12.00" fill="#379bca" color="#379bca" stroke-width="0.132" textLength="28.44" lengthAdjust="spacingAndGlyphs">1133</text>
<text x="286.59" y="299.00" font-size="12.00" fill="#aa1c44" color="#aa1c44" stroke-width="0.132" textLength="26.49" lengthAdjust="spacingAndGlyphs">1501</text>
<text x="235.71" y="316.30" font-size="12.00" fill="#ad733a" color="#ad733a" stroke-width="0.132" textLength="20.30" lengthAdjust="spacingAndGlyphs">597</text>
<text x="236.44" y="331.70" font-size="12.00" fill="#464a5a" color="#464a5a" stroke-width="0.132" textLength="19.96" lengthAdjust="spacingAndGlyphs">377</text>
<text x="232.07" y="266.50" font-size="15.00" fill="#231f20" color="#231f20" stroke-width="0.165" textLength="103.24" lengthAdjust="spacingAndGlyphs">Anti-HPA-9b P1</text>
<path d="M410.00 399.80 C410.20 399.58 410.48 399.50 411.20 398.50 C411.92 397.50 413.27 395.73 414.30 393.80 C415.33 391.87 416.50 389.45 417.40 386.90 C418.30 384.35 419.07 381.45 419.70 378.50 C420.33 375.55 420.75 372.03 421.20 369.20 C421.65 366.37 422.02 363.67 422.40 361.50 C422.78 359.33 423.05 358.12 423.50 356.20 C423.95 354.28 424.60 351.70 425.10 350.00 C425.60 348.30 425.97 347.93 426.50 346.00 C427.03 344.07 427.67 340.52 428.30 338.40 C428.93 336.28 429.58 334.68 430.30 333.30 C431.02 331.92 431.85 330.40 432.60 330.10 C433.35 329.80 434.32 330.47 434.80 331.50 C435.28 332.53 435.03 334.80 435.50 336.30 C435.97 337.80 436.90 338.05 437.60 340.50 C438.30 342.95 439.00 347.50 439.70 351.00 C440.40 354.50 441.10 358.00 441.80 361.50 C442.50 365.00 443.20 368.50 443.90 372.00 C444.60 375.50 445.13 379.00 446.00 382.50 C446.87 386.00 448.05 390.38 449.10 393.00 C450.15 395.62 451.48 397.07 452.30 398.20 C453.12 399.33 453.72 399.53 454.00 399.80 L454.00 399.90 L410.00 399.90 Z" fill="rgba(80,180,230,0.38)" stroke="none"/>
<path d="M397.50 399.80 C398.38 398.93 401.42 396.48 402.80 394.60 C404.18 392.72 404.97 390.80 405.80 388.50 C406.63 386.20 407.28 383.37 407.80 380.80 C408.32 378.23 408.45 375.67 408.90 373.10 C409.35 370.53 410.05 367.97 410.50 365.40 C410.95 362.83 411.28 360.27 411.60 357.70 C411.92 355.13 412.07 352.45 412.40 350.00 C412.73 347.55 412.98 346.08 413.60 343.00 C414.22 339.92 415.10 334.28 416.10 331.50 C417.10 328.72 418.82 327.45 419.60 326.30 C420.38 325.15 420.22 322.58 420.80 324.60 C421.38 326.62 422.28 333.50 423.10 338.40 C423.92 343.30 425.00 349.07 425.70 354.00 C426.40 358.93 426.80 364.17 427.30 368.00 C427.80 371.83 428.22 374.23 428.70 377.00 C429.18 379.77 429.25 381.77 430.20 384.60 C431.15 387.43 433.00 391.65 434.40 394.00 C435.80 396.35 437.58 397.73 438.60 398.70 C439.62 399.67 440.18 399.62 440.50 399.80 L440.50 399.90 L397.50 399.90 Z" fill="rgba(200,140,75,0.44)" stroke="none"/>
<path d="M415.50 399.80 C415.68 399.70 415.77 400.20 416.60 399.20 C417.43 398.20 419.35 395.85 420.50 393.80 C421.65 391.75 422.67 389.20 423.50 386.90 C424.33 384.60 424.73 383.37 425.50 380.00 C426.27 376.63 427.32 370.67 428.10 366.70 C428.88 362.73 429.50 359.70 430.20 356.20 C430.90 352.70 431.68 349.02 432.30 345.70 C432.92 342.38 433.37 338.13 433.90 336.30 C434.43 334.47 435.00 334.92 435.50 334.70 C436.00 334.48 436.38 336.97 436.90 335.00 C437.42 333.03 438.02 325.27 438.60 322.90 C439.18 320.53 439.82 320.52 440.40 320.80 C440.98 321.08 441.70 323.07 442.10 324.60 C442.50 326.13 442.42 327.35 442.80 330.00 C443.18 332.65 443.87 336.13 444.40 340.50 C444.93 344.87 445.38 350.95 446.00 356.20 C446.62 361.45 447.32 367.27 448.10 372.00 C448.88 376.73 449.73 380.93 450.70 384.60 C451.67 388.27 452.93 391.55 453.90 394.00 C454.87 396.45 455.90 398.33 456.50 399.30 C457.10 400.27 457.33 399.72 457.50 399.80 L457.50 399.90 L415.50 399.90 Z" fill="rgba(205,72,80,0.44)" stroke="none"/>
<path d="M398.50 399.80 C399.22 398.93 401.58 396.48 402.80 394.60 C404.02 392.72 404.97 390.80 405.80 388.50 C406.63 386.20 407.28 383.37 407.80 380.80 C408.32 378.23 408.45 375.67 408.90 373.10 C409.35 370.53 410.05 367.97 410.50 365.40 C410.95 362.83 411.25 360.17 411.60 357.70 C411.95 355.23 412.07 354.10 412.60 350.60 C413.13 347.10 414.07 341.03 414.80 336.70 C415.53 332.37 416.48 328.63 417.00 324.60 C417.52 320.57 417.47 316.22 417.90 312.50 C418.33 308.78 419.03 302.58 419.60 302.30 C420.17 302.02 420.72 309.97 421.30 310.80 C421.88 311.63 422.58 306.73 423.10 307.30 C423.62 307.87 423.83 311.90 424.40 314.20 C424.97 316.50 425.85 317.92 426.50 321.10 C427.15 324.28 427.87 329.25 428.30 333.30 C428.73 337.35 428.87 340.70 429.10 345.40 C429.33 350.10 429.33 357.07 429.70 361.50 C430.07 365.93 430.68 368.50 431.30 372.00 C431.92 375.50 432.53 379.18 433.40 382.50 C434.27 385.82 435.28 389.28 436.50 391.90 C437.72 394.52 439.70 396.88 440.70 398.20 C441.70 399.52 442.20 399.53 442.50 399.80" fill="none" stroke="#4a5068" stroke-width="1.25" stroke-linejoin="round"/>
<path d="M397.50 399.80 C398.38 398.93 401.42 396.48 402.80 394.60 C404.18 392.72 404.97 390.80 405.80 388.50 C406.63 386.20 407.28 383.37 407.80 380.80 C408.32 378.23 408.45 375.67 408.90 373.10 C409.35 370.53 410.05 367.97 410.50 365.40 C410.95 362.83 411.28 360.27 411.60 357.70 C411.92 355.13 412.07 352.45 412.40 350.00 C412.73 347.55 412.98 346.08 413.60 343.00 C414.22 339.92 415.10 334.28 416.10 331.50 C417.10 328.72 418.82 327.45 419.60 326.30 C420.38 325.15 420.22 322.58 420.80 324.60 C421.38 326.62 422.28 333.50 423.10 338.40 C423.92 343.30 425.00 349.07 425.70 354.00 C426.40 358.93 426.80 364.17 427.30 368.00 C427.80 371.83 428.22 374.23 428.70 377.00 C429.18 379.77 429.25 381.77 430.20 384.60 C431.15 387.43 433.00 391.65 434.40 394.00 C435.80 396.35 437.58 397.73 438.60 398.70 C439.62 399.67 440.18 399.62 440.50 399.80" fill="none" stroke="#b8742e" stroke-width="1.25" stroke-linejoin="round"/>
<path d="M410.00 399.80 C410.20 399.58 410.48 399.50 411.20 398.50 C411.92 397.50 413.27 395.73 414.30 393.80 C415.33 391.87 416.50 389.45 417.40 386.90 C418.30 384.35 419.07 381.45 419.70 378.50 C420.33 375.55 420.75 372.03 421.20 369.20 C421.65 366.37 422.02 363.67 422.40 361.50 C422.78 359.33 423.05 358.12 423.50 356.20 C423.95 354.28 424.60 351.70 425.10 350.00 C425.60 348.30 425.97 347.93 426.50 346.00 C427.03 344.07 427.67 340.52 428.30 338.40 C428.93 336.28 429.58 334.68 430.30 333.30 C431.02 331.92 431.85 330.40 432.60 330.10 C433.35 329.80 434.32 330.47 434.80 331.50 C435.28 332.53 435.03 334.80 435.50 336.30 C435.97 337.80 436.90 338.05 437.60 340.50 C438.30 342.95 439.00 347.50 439.70 351.00 C440.40 354.50 441.10 358.00 441.80 361.50 C442.50 365.00 443.20 368.50 443.90 372.00 C444.60 375.50 445.13 379.00 446.00 382.50 C446.87 386.00 448.05 390.38 449.10 393.00 C450.15 395.62 451.48 397.07 452.30 398.20 C453.12 399.33 453.72 399.53 454.00 399.80" fill="none" stroke="#3aa2d2" stroke-width="1.25" stroke-linejoin="round"/>
<path d="M415.50 399.80 C415.68 399.70 415.77 400.20 416.60 399.20 C417.43 398.20 419.35 395.85 420.50 393.80 C421.65 391.75 422.67 389.20 423.50 386.90 C424.33 384.60 424.73 383.37 425.50 380.00 C426.27 376.63 427.32 370.67 428.10 366.70 C428.88 362.73 429.50 359.70 430.20 356.20 C430.90 352.70 431.68 349.02 432.30 345.70 C432.92 342.38 433.37 338.13 433.90 336.30 C434.43 334.47 435.00 334.92 435.50 334.70 C436.00 334.48 436.38 336.97 436.90 335.00 C437.42 333.03 438.02 325.27 438.60 322.90 C439.18 320.53 439.82 320.52 440.40 320.80 C440.98 321.08 441.70 323.07 442.10 324.60 C442.50 326.13 442.42 327.35 442.80 330.00 C443.18 332.65 443.87 336.13 444.40 340.50 C444.93 344.87 445.38 350.95 446.00 356.20 C446.62 361.45 447.32 367.27 448.10 372.00 C448.88 376.73 449.73 380.93 450.70 384.60 C451.67 388.27 452.93 391.55 453.90 394.00 C454.87 396.45 455.90 398.33 456.50 399.30 C457.10 400.27 457.33 399.72 457.50 399.80" fill="none" stroke="#b81c3c" stroke-width="1.25" stroke-linejoin="round"/>
<rect x="385.3" y="275.5" width="124.0" height="124.39999999999998" fill="none" stroke="#000" stroke-width="1.7"/>
<line x1="380.7" y1="399.90" x2="385.3" y2="399.90" stroke="#000" stroke-width="1.2"/>
<line x1="383.1" y1="390.60" x2="385.3" y2="390.60" stroke="#000" stroke-width="1.2"/>
<line x1="383.1" y1="381.30" x2="385.3" y2="381.30" stroke="#000" stroke-width="1.2"/>
<line x1="380.7" y1="372.00" x2="385.3" y2="372.00" stroke="#000" stroke-width="1.2"/>
<line x1="383.1" y1="362.70" x2="385.3" y2="362.70" stroke="#000" stroke-width="1.2"/>
<line x1="383.1" y1="353.40" x2="385.3" y2="353.40" stroke="#000" stroke-width="1.2"/>
<line x1="380.7" y1="344.10" x2="385.3" y2="344.10" stroke="#000" stroke-width="1.2"/>
<line x1="383.1" y1="334.80" x2="385.3" y2="334.80" stroke="#000" stroke-width="1.2"/>
<line x1="383.1" y1="325.50" x2="385.3" y2="325.50" stroke="#000" stroke-width="1.2"/>
<line x1="380.7" y1="316.20" x2="385.3" y2="316.20" stroke="#000" stroke-width="1.2"/>
<line x1="383.1" y1="306.90" x2="385.3" y2="306.90" stroke="#000" stroke-width="1.2"/>
<line x1="383.1" y1="297.60" x2="385.3" y2="297.60" stroke="#000" stroke-width="1.2"/>
<line x1="380.7" y1="288.30" x2="385.3" y2="288.30" stroke="#000" stroke-width="1.2"/>
<line x1="383.1" y1="279.00" x2="385.3" y2="279.00" stroke="#000" stroke-width="1.2"/>
<text x="368.67" y="403.30" font-size="12.00" fill="#231f20" color="#231f20" stroke-width="0.132" textLength="6.81" lengthAdjust="spacingAndGlyphs">0</text>
<text x="361.86" y="375.40" font-size="12.00" fill="#231f20" color="#231f20" stroke-width="0.132" textLength="13.61" lengthAdjust="spacingAndGlyphs">30</text>
<text x="361.86" y="347.50" font-size="12.00" fill="#231f20" color="#231f20" stroke-width="0.132" textLength="13.61" lengthAdjust="spacingAndGlyphs">60</text>
<text x="361.86" y="319.60" font-size="12.00" fill="#231f20" color="#231f20" stroke-width="0.132" textLength="13.61" lengthAdjust="spacingAndGlyphs">90</text>
<text x="355.06" y="291.70" font-size="12.00" fill="#231f20" color="#231f20" stroke-width="0.132" textLength="20.42" lengthAdjust="spacingAndGlyphs">120</text>
<line x1="389.90" y1="399.9" x2="389.90" y2="402.9" stroke="#000" stroke-width="1.3"/>
<line x1="393.30" y1="399.9" x2="393.30" y2="402.9" stroke="#000" stroke-width="1.3"/>
<line x1="396.20" y1="399.9" x2="396.20" y2="402.9" stroke="#000" stroke-width="1.3"/>
<line x1="401.30" y1="399.9" x2="401.30" y2="402.9" stroke="#000" stroke-width="1.3"/>
<line x1="404.90" y1="399.9" x2="404.90" y2="402.9" stroke="#000" stroke-width="1.3"/>
<line x1="413.90" y1="399.9" x2="413.90" y2="402.9" stroke="#000" stroke-width="1.3"/>
<line x1="417.30" y1="399.9" x2="417.30" y2="402.9" stroke="#000" stroke-width="1.3"/>
<line x1="420.10" y1="399.9" x2="420.10" y2="402.9" stroke="#000" stroke-width="1.3"/>
<line x1="422.50" y1="399.9" x2="422.50" y2="402.9" stroke="#000" stroke-width="1.3"/>
<line x1="425.00" y1="399.9" x2="425.00" y2="402.9" stroke="#000" stroke-width="1.3"/>
<line x1="427.50" y1="399.9" x2="427.50" y2="402.9" stroke="#000" stroke-width="1.3"/>
<line x1="430.50" y1="399.9" x2="430.50" y2="402.9" stroke="#000" stroke-width="1.3"/>
<line x1="432.70" y1="399.9" x2="432.70" y2="402.9" stroke="#000" stroke-width="1.3"/>
<line x1="434.50" y1="399.9" x2="434.50" y2="402.9" stroke="#000" stroke-width="1.3"/>
<line x1="436.40" y1="399.9" x2="436.40" y2="402.9" stroke="#000" stroke-width="1.3"/>
<line x1="438.10" y1="399.9" x2="438.10" y2="402.9" stroke="#000" stroke-width="1.3"/>
<line x1="448.46" y1="399.9" x2="448.46" y2="402.9" stroke="#000" stroke-width="1.3"/>
<line x1="453.58" y1="399.9" x2="453.58" y2="402.9" stroke="#000" stroke-width="1.3"/>
<line x1="457.22" y1="399.9" x2="457.22" y2="402.9" stroke="#000" stroke-width="1.3"/>
<line x1="460.04" y1="399.9" x2="460.04" y2="402.9" stroke="#000" stroke-width="1.3"/>
<line x1="462.34" y1="399.9" x2="462.34" y2="402.9" stroke="#000" stroke-width="1.3"/>
<line x1="464.29" y1="399.9" x2="464.29" y2="402.9" stroke="#000" stroke-width="1.3"/>
<line x1="465.98" y1="399.9" x2="465.98" y2="402.9" stroke="#000" stroke-width="1.3"/>
<line x1="467.47" y1="399.9" x2="467.47" y2="402.9" stroke="#000" stroke-width="1.3"/>
<line x1="477.56" y1="399.9" x2="477.56" y2="402.9" stroke="#000" stroke-width="1.3"/>
<line x1="482.68" y1="399.9" x2="482.68" y2="402.9" stroke="#000" stroke-width="1.3"/>
<line x1="486.32" y1="399.9" x2="486.32" y2="402.9" stroke="#000" stroke-width="1.3"/>
<line x1="489.14" y1="399.9" x2="489.14" y2="402.9" stroke="#000" stroke-width="1.3"/>
<line x1="491.44" y1="399.9" x2="491.44" y2="402.9" stroke="#000" stroke-width="1.3"/>
<line x1="493.39" y1="399.9" x2="493.39" y2="402.9" stroke="#000" stroke-width="1.3"/>
<line x1="495.08" y1="399.9" x2="495.08" y2="402.9" stroke="#000" stroke-width="1.3"/>
<line x1="496.57" y1="399.9" x2="496.57" y2="402.9" stroke="#000" stroke-width="1.3"/>
<line x1="506.66" y1="399.9" x2="506.66" y2="402.9" stroke="#000" stroke-width="1.3"/>
<line x1="398.90" y1="399.9" x2="398.90" y2="404.5" stroke="#000" stroke-width="1.4"/>
<line x1="439.70" y1="399.9" x2="439.70" y2="404.5" stroke="#000" stroke-width="1.4"/>
<line x1="468.80" y1="399.9" x2="468.80" y2="404.5" stroke="#000" stroke-width="1.4"/>
<line x1="497.90" y1="399.9" x2="497.90" y2="404.5" stroke="#000" stroke-width="1.4"/>
<line x1="387.50" y1="399.9" x2="387.50" y2="403.9" stroke="#000" stroke-width="1.3"/>
<line x1="409.90" y1="399.9" x2="409.90" y2="403.9" stroke="#000" stroke-width="1.3"/>
<text x="396.11" y="420.20" font-size="11.60" fill="#231f20" color="#231f20" stroke-width="0.128" textLength="6.98" lengthAdjust="spacingAndGlyphs">0</text>
<text x="430.58" y="420.20" font-size="12.40" fill="#231f20" color="#231f20" stroke-width="0.136" textLength="13.39" lengthAdjust="spacingAndGlyphs">10</text>
<text x="444.58" y="415.60" font-size="9.00" fill="#231f20" color="#231f20" stroke-width="0.099" textLength="4.69" lengthAdjust="spacingAndGlyphs">3</text>
<text x="460.08" y="420.20" font-size="12.40" fill="#231f20" color="#231f20" stroke-width="0.136" textLength="13.39" lengthAdjust="spacingAndGlyphs">10</text>
<text x="474.22" y="415.60" font-size="9.00" fill="#231f20" color="#231f20" stroke-width="0.099" textLength="4.41" lengthAdjust="spacingAndGlyphs">4</text>
<text x="489.58" y="420.20" font-size="12.40" fill="#231f20" color="#231f20" stroke-width="0.136" textLength="13.39" lengthAdjust="spacingAndGlyphs">10</text>
<text x="503.56" y="415.60" font-size="9.00" fill="#231f20" color="#231f20" stroke-width="0.099" textLength="4.69" lengthAdjust="spacingAndGlyphs">5</text>
<text x="425.69" y="311.60" font-size="12.00" fill="#379bca" color="#379bca" stroke-width="0.132" textLength="21.21" lengthAdjust="spacingAndGlyphs">570</text>
<text x="451.91" y="319.10" font-size="12.00" fill="#aa1c44" color="#aa1c44" stroke-width="0.132" textLength="21.02" lengthAdjust="spacingAndGlyphs">905</text>
<text x="390.99" y="326.30" font-size="12.00" fill="#ad733a" color="#ad733a" stroke-width="0.132" textLength="20.37" lengthAdjust="spacingAndGlyphs">224</text>
<text x="390.47" y="341.60" font-size="12.00" fill="#464a5a" color="#464a5a" stroke-width="0.132" textLength="21.03" lengthAdjust="spacingAndGlyphs">280</text>
<text x="394.57" y="266.50" font-size="15.00" fill="#231f20" color="#231f20" stroke-width="0.165" textLength="105.38" lengthAdjust="spacingAndGlyphs">Anti-HPA-9b P2</text>
<path d="M78.20 609.00 C79.43 606.23 83.60 598.52 85.60 592.40 C87.60 586.28 88.75 577.78 90.20 572.30 C91.65 566.82 93.43 562.97 94.30 559.50 C95.17 556.03 95.02 554.77 95.40 551.50 C95.78 548.23 96.20 543.32 96.60 539.90 C97.00 536.48 97.42 533.30 97.80 531.00 C98.18 528.70 98.50 526.43 98.90 526.10 C99.30 525.77 99.72 528.62 100.20 529.00 C100.68 529.38 101.35 528.70 101.80 528.40 C102.25 528.10 102.42 526.63 102.90 527.20 C103.38 527.77 104.05 529.08 104.70 531.80 C105.35 534.52 106.15 539.80 106.80 543.50 C107.45 547.20 108.03 551.08 108.60 554.00 C109.17 556.92 109.47 557.83 110.20 561.00 C110.93 564.17 111.92 568.37 113.00 573.00 C114.08 577.63 115.17 583.43 116.70 588.80 C118.23 594.17 120.82 601.83 122.20 605.20 C123.58 608.57 124.53 608.37 125.00 609.00 L125.00 609.00 L78.20 609.00 Z" fill="rgba(80,180,230,0.38)" stroke="none"/>
<path d="M72.70 609.00 C73.78 606.23 77.50 598.52 79.20 592.40 C80.90 586.28 81.63 577.78 82.90 572.30 C84.17 566.82 85.77 563.93 86.80 559.50 C87.83 555.07 88.43 550.88 89.10 545.70 C89.77 540.52 90.32 533.02 90.80 528.40 C91.28 523.78 91.52 521.65 92.00 518.00 C92.48 514.35 93.13 509.87 93.70 506.50 C94.27 503.13 94.87 497.80 95.40 497.80 C95.93 497.80 96.52 503.33 96.90 506.50 C97.28 509.67 97.37 513.35 97.70 516.80 C98.03 520.25 98.52 523.35 98.90 527.20 C99.28 531.05 99.62 535.85 100.00 539.90 C100.38 543.95 100.83 548.15 101.20 551.50 C101.57 554.85 101.63 555.92 102.20 560.00 C102.77 564.08 103.55 570.60 104.60 576.00 C105.65 581.40 106.93 587.53 108.50 592.40 C110.07 597.27 112.58 602.43 114.00 605.20 C115.42 607.97 116.50 608.37 117.00 609.00 L117.00 609.00 L72.70 609.00 Z" fill="rgba(200,140,75,0.44)" stroke="none"/>
<path d="M86.40 609.00 C87.80 606.55 92.80 600.42 94.80 594.30 C96.80 588.18 97.50 578.68 98.40 572.30 C99.30 565.92 99.80 560.82 100.20 556.00 C100.60 551.18 100.52 546.65 100.80 543.40 C101.08 540.15 101.35 539.97 101.90 536.50 C102.45 533.03 103.45 526.27 104.10 522.60 C104.75 518.93 105.23 516.80 105.80 514.50 C106.37 512.20 107.02 509.85 107.50 508.80 C107.98 507.75 108.32 507.82 108.70 508.20 C109.08 508.58 109.42 509.08 109.80 511.10 C110.18 513.12 110.70 517.42 111.00 520.30 C111.30 523.18 111.32 526.87 111.60 528.40 C111.88 529.93 112.32 528.15 112.70 529.50 C113.08 530.85 113.42 533.22 113.90 536.50 C114.38 539.78 115.03 545.37 115.60 549.20 C116.17 553.03 116.73 555.87 117.30 559.50 C117.87 563.13 118.33 566.12 119.00 571.00 C119.67 575.88 120.00 583.10 121.30 588.80 C122.60 594.50 125.43 601.83 126.80 605.20 C128.17 608.57 129.05 608.37 129.50 609.00 L129.50 609.00 L86.40 609.00 Z" fill="rgba(205,72,80,0.44)" stroke="none"/>
<path d="M73.90 609.00 C74.82 606.23 77.87 598.52 79.40 592.40 C80.93 586.28 81.85 578.37 83.10 572.30 C84.35 566.23 85.87 561.38 86.90 556.00 C87.93 550.62 88.65 546.13 89.30 540.00 C89.95 533.87 90.22 522.97 90.80 519.20 C91.38 515.43 92.22 517.98 92.80 517.40 C93.38 516.82 93.73 516.37 94.30 515.70 C94.87 515.03 95.68 513.40 96.20 513.40 C96.72 513.40 97.03 513.50 97.40 515.70 C97.77 517.90 97.97 522.55 98.40 526.60 C98.83 530.65 99.47 535.77 100.00 540.00 C100.53 544.23 101.10 548.33 101.60 552.00 C102.10 555.67 102.32 558.33 103.00 562.00 C103.68 565.67 104.48 569.23 105.70 574.00 C106.92 578.77 108.62 585.40 110.30 590.60 C111.98 595.80 114.52 602.13 115.80 605.20 C117.08 608.27 117.63 608.37 118.00 609.00" fill="none" stroke="#4a5068" stroke-width="1.25" stroke-linejoin="round"/>
<path d="M72.70 609.00 C73.78 606.23 77.50 598.52 79.20 592.40 C80.90 586.28 81.63 577.78 82.90 572.30 C84.17 566.82 85.77 563.93 86.80 559.50 C87.83 555.07 88.43 550.88 89.10 545.70 C89.77 540.52 90.32 533.02 90.80 528.40 C91.28 523.78 91.52 521.65 92.00 518.00 C92.48 514.35 93.13 509.87 93.70 506.50 C94.27 503.13 94.87 497.80 95.40 497.80 C95.93 497.80 96.52 503.33 96.90 506.50 C97.28 509.67 97.37 513.35 97.70 516.80 C98.03 520.25 98.52 523.35 98.90 527.20 C99.28 531.05 99.62 535.85 100.00 539.90 C100.38 543.95 100.83 548.15 101.20 551.50 C101.57 554.85 101.63 555.92 102.20 560.00 C102.77 564.08 103.55 570.60 104.60 576.00 C105.65 581.40 106.93 587.53 108.50 592.40 C110.07 597.27 112.58 602.43 114.00 605.20 C115.42 607.97 116.50 608.37 117.00 609.00" fill="none" stroke="#b8742e" stroke-width="1.25" stroke-linejoin="round"/>
<path d="M78.20 609.00 C79.43 606.23 83.60 598.52 85.60 592.40 C87.60 586.28 88.75 577.78 90.20 572.30 C91.65 566.82 93.43 562.97 94.30 559.50 C95.17 556.03 95.02 554.77 95.40 551.50 C95.78 548.23 96.20 543.32 96.60 539.90 C97.00 536.48 97.42 533.30 97.80 531.00 C98.18 528.70 98.50 526.43 98.90 526.10 C99.30 525.77 99.72 528.62 100.20 529.00 C100.68 529.38 101.35 528.70 101.80 528.40 C102.25 528.10 102.42 526.63 102.90 527.20 C103.38 527.77 104.05 529.08 104.70 531.80 C105.35 534.52 106.15 539.80 106.80 543.50 C107.45 547.20 108.03 551.08 108.60 554.00 C109.17 556.92 109.47 557.83 110.20 561.00 C110.93 564.17 111.92 568.37 113.00 573.00 C114.08 577.63 115.17 583.43 116.70 588.80 C118.23 594.17 120.82 601.83 122.20 605.20 C123.58 608.57 124.53 608.37 125.00 609.00" fill="none" stroke="#3aa2d2" stroke-width="1.25" stroke-linejoin="round"/>
<path d="M86.40 609.00 C87.80 606.55 92.80 600.42 94.80 594.30 C96.80 588.18 97.50 578.68 98.40 572.30 C99.30 565.92 99.80 560.82 100.20 556.00 C100.60 551.18 100.52 546.65 100.80 543.40 C101.08 540.15 101.35 539.97 101.90 536.50 C102.45 533.03 103.45 526.27 104.10 522.60 C104.75 518.93 105.23 516.80 105.80 514.50 C106.37 512.20 107.02 509.85 107.50 508.80 C107.98 507.75 108.32 507.82 108.70 508.20 C109.08 508.58 109.42 509.08 109.80 511.10 C110.18 513.12 110.70 517.42 111.00 520.30 C111.30 523.18 111.32 526.87 111.60 528.40 C111.88 529.93 112.32 528.15 112.70 529.50 C113.08 530.85 113.42 533.22 113.90 536.50 C114.38 539.78 115.03 545.37 115.60 549.20 C116.17 553.03 116.73 555.87 117.30 559.50 C117.87 563.13 118.33 566.12 119.00 571.00 C119.67 575.88 120.00 583.10 121.30 588.80 C122.60 594.50 125.43 601.83 126.80 605.20 C128.17 608.57 129.05 608.37 129.50 609.00" fill="none" stroke="#b81c3c" stroke-width="1.25" stroke-linejoin="round"/>
<rect x="57.6" y="484.8" width="124.20000000000002" height="124.19999999999999" fill="none" stroke="#000" stroke-width="1.7"/>
<line x1="53.0" y1="609.00" x2="57.6" y2="609.00" stroke="#000" stroke-width="1.2"/>
<line x1="55.4" y1="599.75" x2="57.6" y2="599.75" stroke="#000" stroke-width="1.2"/>
<line x1="55.4" y1="590.50" x2="57.6" y2="590.50" stroke="#000" stroke-width="1.2"/>
<line x1="53.0" y1="581.25" x2="57.6" y2="581.25" stroke="#000" stroke-width="1.2"/>
<line x1="55.4" y1="572.00" x2="57.6" y2="572.00" stroke="#000" stroke-width="1.2"/>
<line x1="55.4" y1="562.75" x2="57.6" y2="562.75" stroke="#000" stroke-width="1.2"/>
<line x1="53.0" y1="553.50" x2="57.6" y2="553.50" stroke="#000" stroke-width="1.2"/>
<line x1="55.4" y1="544.25" x2="57.6" y2="544.25" stroke="#000" stroke-width="1.2"/>
<line x1="55.4" y1="535.00" x2="57.6" y2="535.00" stroke="#000" stroke-width="1.2"/>
<line x1="53.0" y1="525.75" x2="57.6" y2="525.75" stroke="#000" stroke-width="1.2"/>
<line x1="55.4" y1="516.50" x2="57.6" y2="516.50" stroke="#000" stroke-width="1.2"/>
<line x1="55.4" y1="507.25" x2="57.6" y2="507.25" stroke="#000" stroke-width="1.2"/>
<line x1="53.0" y1="498.00" x2="57.6" y2="498.00" stroke="#000" stroke-width="1.2"/>
<line x1="55.4" y1="488.75" x2="57.6" y2="488.75" stroke="#000" stroke-width="1.2"/>
<text x="40.97" y="612.40" font-size="12.00" fill="#231f20" color="#231f20" stroke-width="0.132" textLength="6.81" lengthAdjust="spacingAndGlyphs">0</text>
<text x="34.16" y="584.65" font-size="12.00" fill="#231f20" color="#231f20" stroke-width="0.132" textLength="13.61" lengthAdjust="spacingAndGlyphs">30</text>
<text x="34.16" y="556.90" font-size="12.00" fill="#231f20" color="#231f20" stroke-width="0.132" textLength="13.61" lengthAdjust="spacingAndGlyphs">60</text>
<text x="34.16" y="529.15" font-size="12.00" fill="#231f20" color="#231f20" stroke-width="0.132" textLength="13.61" lengthAdjust="spacingAndGlyphs">90</text>
<text x="27.36" y="501.40" font-size="12.00" fill="#231f20" color="#231f20" stroke-width="0.132" textLength="20.42" lengthAdjust="spacingAndGlyphs">120</text>
<line x1="62.20" y1="609.0" x2="62.20" y2="612.0" stroke="#000" stroke-width="1.3"/>
<line x1="65.60" y1="609.0" x2="65.60" y2="612.0" stroke="#000" stroke-width="1.3"/>
<line x1="68.50" y1="609.0" x2="68.50" y2="612.0" stroke="#000" stroke-width="1.3"/>
<line x1="73.60" y1="609.0" x2="73.60" y2="612.0" stroke="#000" stroke-width="1.3"/>
<line x1="77.20" y1="609.0" x2="77.20" y2="612.0" stroke="#000" stroke-width="1.3"/>
<line x1="86.20" y1="609.0" x2="86.20" y2="612.0" stroke="#000" stroke-width="1.3"/>
<line x1="89.60" y1="609.0" x2="89.60" y2="612.0" stroke="#000" stroke-width="1.3"/>
<line x1="92.40" y1="609.0" x2="92.40" y2="612.0" stroke="#000" stroke-width="1.3"/>
<line x1="94.80" y1="609.0" x2="94.80" y2="612.0" stroke="#000" stroke-width="1.3"/>
<line x1="97.30" y1="609.0" x2="97.30" y2="612.0" stroke="#000" stroke-width="1.3"/>
<line x1="99.80" y1="609.0" x2="99.80" y2="612.0" stroke="#000" stroke-width="1.3"/>
<line x1="102.80" y1="609.0" x2="102.80" y2="612.0" stroke="#000" stroke-width="1.3"/>
<line x1="105.00" y1="609.0" x2="105.00" y2="612.0" stroke="#000" stroke-width="1.3"/>
<line x1="106.80" y1="609.0" x2="106.80" y2="612.0" stroke="#000" stroke-width="1.3"/>
<line x1="108.70" y1="609.0" x2="108.70" y2="612.0" stroke="#000" stroke-width="1.3"/>
<line x1="110.40" y1="609.0" x2="110.40" y2="612.0" stroke="#000" stroke-width="1.3"/>
<line x1="120.76" y1="609.0" x2="120.76" y2="612.0" stroke="#000" stroke-width="1.3"/>
<line x1="125.88" y1="609.0" x2="125.88" y2="612.0" stroke="#000" stroke-width="1.3"/>
<line x1="129.52" y1="609.0" x2="129.52" y2="612.0" stroke="#000" stroke-width="1.3"/>
<line x1="132.34" y1="609.0" x2="132.34" y2="612.0" stroke="#000" stroke-width="1.3"/>
<line x1="134.64" y1="609.0" x2="134.64" y2="612.0" stroke="#000" stroke-width="1.3"/>
<line x1="136.59" y1="609.0" x2="136.59" y2="612.0" stroke="#000" stroke-width="1.3"/>
<line x1="138.28" y1="609.0" x2="138.28" y2="612.0" stroke="#000" stroke-width="1.3"/>
<line x1="139.77" y1="609.0" x2="139.77" y2="612.0" stroke="#000" stroke-width="1.3"/>
<line x1="149.86" y1="609.0" x2="149.86" y2="612.0" stroke="#000" stroke-width="1.3"/>
<line x1="154.98" y1="609.0" x2="154.98" y2="612.0" stroke="#000" stroke-width="1.3"/>
<line x1="158.62" y1="609.0" x2="158.62" y2="612.0" stroke="#000" stroke-width="1.3"/>
<line x1="161.44" y1="609.0" x2="161.44" y2="612.0" stroke="#000" stroke-width="1.3"/>
<line x1="163.74" y1="609.0" x2="163.74" y2="612.0" stroke="#000" stroke-width="1.3"/>
<line x1="165.69" y1="609.0" x2="165.69" y2="612.0" stroke="#000" stroke-width="1.3"/>
<line x1="167.38" y1="609.0" x2="167.38" y2="612.0" stroke="#000" stroke-width="1.3"/>
<line x1="168.87" y1="609.0" x2="168.87" y2="612.0" stroke="#000" stroke-width="1.3"/>
<line x1="178.96" y1="609.0" x2="178.96" y2="612.0" stroke="#000" stroke-width="1.3"/>
<line x1="71.20" y1="609.0" x2="71.20" y2="613.6" stroke="#000" stroke-width="1.4"/>
<line x1="112.00" y1="609.0" x2="112.00" y2="613.6" stroke="#000" stroke-width="1.4"/>
<line x1="141.10" y1="609.0" x2="141.10" y2="613.6" stroke="#000" stroke-width="1.4"/>
<line x1="170.20" y1="609.0" x2="170.20" y2="613.6" stroke="#000" stroke-width="1.4"/>
<line x1="59.80" y1="609.0" x2="59.80" y2="613.0" stroke="#000" stroke-width="1.3"/>
<line x1="82.20" y1="609.0" x2="82.20" y2="613.0" stroke="#000" stroke-width="1.3"/>
<text x="68.41" y="629.30" font-size="11.60" fill="#231f20" color="#231f20" stroke-width="0.128" textLength="6.98" lengthAdjust="spacingAndGlyphs">0</text>
<text x="102.88" y="629.30" font-size="12.40" fill="#231f20" color="#231f20" stroke-width="0.136" textLength="13.39" lengthAdjust="spacingAndGlyphs">10</text>
<text x="116.88" y="624.70" font-size="9.00" fill="#231f20" color="#231f20" stroke-width="0.099" textLength="4.69" lengthAdjust="spacingAndGlyphs">3</text>
<text x="132.38" y="629.30" font-size="12.40" fill="#231f20" color="#231f20" stroke-width="0.136" textLength="13.39" lengthAdjust="spacingAndGlyphs">10</text>
<text x="146.52" y="624.70" font-size="9.00" fill="#231f20" color="#231f20" stroke-width="0.099" textLength="4.41" lengthAdjust="spacingAndGlyphs">4</text>
<text x="161.88" y="629.30" font-size="12.40" fill="#231f20" color="#231f20" stroke-width="0.136" textLength="13.39" lengthAdjust="spacingAndGlyphs">10</text>
<text x="175.86" y="624.70" font-size="9.00" fill="#231f20" color="#231f20" stroke-width="0.099" textLength="4.69" lengthAdjust="spacingAndGlyphs">5</text>
<line x1="78.4" y1="635.2" x2="157" y2="635.2" stroke="#111" stroke-width="1.5"/>
<path d="M155.0 631.9000000000001 L163.3 635.2 L155.0 638.5 L156.6 635.2 Z" fill="#111"/>
<text x="72.80" y="652.50" font-size="14.80" fill="#231f20" color="#231f20" stroke-width="0.300" textLength="99.06" lengthAdjust="spacingAndGlyphs">PE-anti-human IgG</text>
<text x="100.10" y="504.30" font-size="12.00" fill="#379bca" color="#379bca" stroke-width="0.132" textLength="20.66" lengthAdjust="spacingAndGlyphs">574</text>
<text x="126.25" y="516.50" font-size="12.00" fill="#aa1c44" color="#aa1c44" stroke-width="0.132" textLength="21.20" lengthAdjust="spacingAndGlyphs">868</text>
<text x="67.71" y="524.40" font-size="12.00" fill="#ad733a" color="#ad733a" stroke-width="0.132" textLength="21.33" lengthAdjust="spacingAndGlyphs">327</text>
<text x="66.82" y="541.20" font-size="12.00" fill="#464a5a" color="#464a5a" stroke-width="0.132" textLength="20.91" lengthAdjust="spacingAndGlyphs">397</text>
<text x="67.07" y="475.70" font-size="15.00" fill="#231f20" color="#231f20" stroke-width="0.165" textLength="105.08" lengthAdjust="spacingAndGlyphs">Anti-HPA-9b P3</text>
<path d="M256.50 608.70 C256.95 608.27 257.77 608.30 259.20 606.10 C260.63 603.90 263.50 599.57 265.10 595.50 C266.70 591.43 267.67 586.63 268.80 581.70 C269.93 576.77 271.08 571.52 271.90 565.90 C272.72 560.28 273.10 553.43 273.70 548.00 C274.30 542.57 274.82 537.85 275.50 533.30 C276.18 528.75 277.12 523.70 277.80 520.70 C278.48 517.70 279.08 516.50 279.60 515.30 C280.12 514.10 280.45 513.05 280.90 513.50 C281.35 513.95 281.88 515.58 282.30 518.00 C282.72 520.42 283.03 524.33 283.40 528.00 C283.77 531.67 284.12 536.33 284.50 540.00 C284.88 543.67 285.38 547.25 285.70 550.00 C286.02 552.75 285.87 554.73 286.40 556.50 C286.93 558.27 288.32 558.15 288.90 560.60 C289.48 563.05 289.47 566.80 289.90 571.20 C290.33 575.60 290.78 582.07 291.50 587.00 C292.22 591.93 293.15 597.57 294.20 600.80 C295.25 604.03 296.50 605.17 297.80 606.40 C299.10 607.63 300.80 607.82 302.00 608.20 C303.20 608.58 304.50 608.62 305.00 608.70 L305.00 608.70 L256.50 608.70 Z" fill="rgba(80,180,230,0.38)" stroke="none"/>
<path d="M233.90 608.70 C234.97 607.52 238.47 605.22 240.30 601.60 C242.13 597.98 243.53 592.48 244.90 587.00 C246.27 581.52 247.43 574.80 248.50 568.70 C249.57 562.60 250.38 557.42 251.30 550.40 C252.22 543.38 253.25 533.00 254.00 526.60 C254.75 520.20 255.28 515.67 255.80 512.00 C256.32 508.33 256.63 505.95 257.10 504.60 C257.57 503.25 258.13 503.28 258.60 503.90 C259.07 504.52 259.53 506.35 259.90 508.30 C260.27 510.25 260.42 514.98 260.80 515.60 C261.18 516.22 261.72 510.17 262.20 512.00 C262.68 513.83 263.08 520.43 263.70 526.60 C264.32 532.77 265.15 542.45 265.90 549.00 C266.65 555.55 267.20 560.45 268.20 565.90 C269.20 571.35 270.83 577.30 271.90 581.70 C272.97 586.10 273.85 589.12 274.60 592.30 C275.35 595.48 275.62 598.33 276.40 600.80 C277.18 603.27 278.53 605.78 279.30 607.10 C280.07 608.42 280.72 608.43 281.00 608.70 L281.00 608.70 L233.90 608.70 Z" fill="rgba(200,140,75,0.44)" stroke="none"/>
<path d="M259.50 608.70 C259.80 608.43 259.93 608.95 261.30 607.10 C262.67 605.25 265.93 601.47 267.70 597.60 C269.47 593.73 270.67 589.18 271.90 583.90 C273.13 578.62 274.12 571.88 275.10 565.90 C276.08 559.92 276.98 554.03 277.80 548.00 C278.62 541.97 279.40 534.70 280.00 529.70 C280.60 524.70 281.02 521.30 281.40 518.00 C281.78 514.70 282.05 511.47 282.30 509.90 C282.55 508.33 282.68 508.00 282.90 508.60 C283.12 509.20 283.25 512.15 283.60 513.50 C283.95 514.85 284.58 516.02 285.00 516.70 C285.42 517.38 285.73 516.48 286.10 517.60 C286.47 518.72 286.78 521.38 287.20 523.40 C287.62 525.42 288.15 526.85 288.60 529.70 C289.05 532.55 289.42 537.12 289.90 540.50 C290.38 543.88 290.97 545.77 291.50 550.00 C292.03 554.23 292.57 560.62 293.10 565.90 C293.63 571.18 294.00 576.77 294.70 581.70 C295.40 586.63 296.15 591.27 297.30 595.50 C298.45 599.73 300.57 604.90 301.60 607.10 C302.63 609.30 303.18 608.43 303.50 608.70 L303.50 608.70 L259.50 608.70 Z" fill="rgba(205,72,80,0.44)" stroke="none"/>
<path d="M233.90 608.70 C234.97 607.52 238.47 605.22 240.30 601.60 C242.13 597.98 243.53 592.48 244.90 587.00 C246.27 581.52 247.43 574.80 248.50 568.70 C249.57 562.60 250.38 557.42 251.30 550.40 C252.22 543.38 253.25 533.00 254.00 526.60 C254.75 520.20 255.28 515.67 255.80 512.00 C256.32 508.33 256.63 505.95 257.10 504.60 C257.57 503.25 258.13 503.28 258.60 503.90 C259.07 504.52 259.53 506.35 259.90 508.30 C260.27 510.25 260.42 514.98 260.80 515.60 C261.18 516.22 261.72 510.17 262.20 512.00 C262.68 513.83 263.08 520.43 263.70 526.60 C264.32 532.77 265.15 542.45 265.90 549.00 C266.65 555.55 267.20 560.45 268.20 565.90 C269.20 571.35 270.83 577.30 271.90 581.70 C272.97 586.10 273.85 589.12 274.60 592.30 C275.35 595.48 275.62 598.33 276.40 600.80 C277.18 603.27 278.53 605.78 279.30 607.10 C280.07 608.42 280.72 608.43 281.00 608.70" fill="none" stroke="#b8742e" stroke-width="1.25" stroke-linejoin="round"/>
<path d="M234.40 608.70 C235.47 607.52 238.97 605.02 240.80 601.60 C242.63 598.18 244.03 593.48 245.40 588.20 C246.77 582.92 247.93 576.00 249.00 569.90 C250.07 563.80 250.88 558.62 251.80 551.60 C252.72 544.58 253.75 534.20 254.50 527.80 C255.25 521.40 255.78 516.87 256.30 513.20 C256.82 509.53 257.13 507.15 257.60 505.80 C258.07 504.45 258.63 504.48 259.10 505.10 C259.57 505.72 260.03 507.55 260.40 509.50 C260.77 511.45 260.92 516.18 261.30 516.80 C261.68 517.42 262.22 511.37 262.70 513.20 C263.18 515.03 263.58 521.63 264.20 527.80 C264.82 533.97 265.65 543.65 266.40 550.20 C267.15 556.75 267.70 561.65 268.70 567.10 C269.70 572.55 271.33 578.50 272.40 582.90 C273.47 587.30 274.35 590.52 275.10 593.50 C275.85 596.48 276.12 598.53 276.90 600.80 C277.68 603.07 279.03 605.78 279.80 607.10 C280.57 608.42 281.22 608.43 281.50 608.70" fill="none" stroke="#4a5068" stroke-width="1.25" stroke-linejoin="round"/>
<path d="M256.50 608.70 C256.95 608.27 257.77 608.30 259.20 606.10 C260.63 603.90 263.50 599.57 265.10 595.50 C266.70 591.43 267.67 586.63 268.80 581.70 C269.93 576.77 271.08 571.52 271.90 565.90 C272.72 560.28 273.10 553.43 273.70 548.00 C274.30 542.57 274.82 537.85 275.50 533.30 C276.18 528.75 277.12 523.70 277.80 520.70 C278.48 517.70 279.08 516.50 279.60 515.30 C280.12 514.10 280.45 513.05 280.90 513.50 C281.35 513.95 281.88 515.58 282.30 518.00 C282.72 520.42 283.03 524.33 283.40 528.00 C283.77 531.67 284.12 536.33 284.50 540.00 C284.88 543.67 285.38 547.25 285.70 550.00 C286.02 552.75 285.87 554.73 286.40 556.50 C286.93 558.27 288.32 558.15 288.90 560.60 C289.48 563.05 289.47 566.80 289.90 571.20 C290.33 575.60 290.78 582.07 291.50 587.00 C292.22 591.93 293.15 597.57 294.20 600.80 C295.25 604.03 296.50 605.17 297.80 606.40 C299.10 607.63 300.80 607.82 302.00 608.20 C303.20 608.58 304.50 608.62 305.00 608.70" fill="none" stroke="#3aa2d2" stroke-width="1.25" stroke-linejoin="round"/>
<path d="M259.50 608.70 C259.80 608.43 259.93 608.95 261.30 607.10 C262.67 605.25 265.93 601.47 267.70 597.60 C269.47 593.73 270.67 589.18 271.90 583.90 C273.13 578.62 274.12 571.88 275.10 565.90 C276.08 559.92 276.98 554.03 277.80 548.00 C278.62 541.97 279.40 534.70 280.00 529.70 C280.60 524.70 281.02 521.30 281.40 518.00 C281.78 514.70 282.05 511.47 282.30 509.90 C282.55 508.33 282.68 508.00 282.90 508.60 C283.12 509.20 283.25 512.15 283.60 513.50 C283.95 514.85 284.58 516.02 285.00 516.70 C285.42 517.38 285.73 516.48 286.10 517.60 C286.47 518.72 286.78 521.38 287.20 523.40 C287.62 525.42 288.15 526.85 288.60 529.70 C289.05 532.55 289.42 537.12 289.90 540.50 C290.38 543.88 290.97 545.77 291.50 550.00 C292.03 554.23 292.57 560.62 293.10 565.90 C293.63 571.18 294.00 576.77 294.70 581.70 C295.40 586.63 296.15 591.27 297.30 595.50 C298.45 599.73 300.57 604.90 301.60 607.10 C302.63 609.30 303.18 608.43 303.50 608.70" fill="none" stroke="#b81c3c" stroke-width="1.25" stroke-linejoin="round"/>
<rect x="222.5" y="484.5" width="124.5" height="124.20000000000005" fill="none" stroke="#000" stroke-width="1.7"/>
<line x1="217.9" y1="608.70" x2="222.5" y2="608.70" stroke="#000" stroke-width="1.2"/>
<line x1="220.3" y1="603.01" x2="222.5" y2="603.01" stroke="#000" stroke-width="1.2"/>
<line x1="220.3" y1="597.32" x2="222.5" y2="597.32" stroke="#000" stroke-width="1.2"/>
<line x1="220.3" y1="591.63" x2="222.5" y2="591.63" stroke="#000" stroke-width="1.2"/>
<line x1="217.9" y1="585.94" x2="222.5" y2="585.94" stroke="#000" stroke-width="1.2"/>
<line x1="220.3" y1="580.25" x2="222.5" y2="580.25" stroke="#000" stroke-width="1.2"/>
<line x1="220.3" y1="574.56" x2="222.5" y2="574.56" stroke="#000" stroke-width="1.2"/>
<line x1="220.3" y1="568.87" x2="222.5" y2="568.87" stroke="#000" stroke-width="1.2"/>
<line x1="217.9" y1="563.18" x2="222.5" y2="563.18" stroke="#000" stroke-width="1.2"/>
<line x1="220.3" y1="557.49" x2="222.5" y2="557.49" stroke="#000" stroke-width="1.2"/>
<line x1="220.3" y1="551.80" x2="222.5" y2="551.80" stroke="#000" stroke-width="1.2"/>
<line x1="220.3" y1="546.11" x2="222.5" y2="546.11" stroke="#000" stroke-width="1.2"/>
<line x1="217.9" y1="540.42" x2="222.5" y2="540.42" stroke="#000" stroke-width="1.2"/>
<line x1="220.3" y1="534.73" x2="222.5" y2="534.73" stroke="#000" stroke-width="1.2"/>
<line x1="220.3" y1="529.04" x2="222.5" y2="529.04" stroke="#000" stroke-width="1.2"/>
<line x1="220.3" y1="523.35" x2="222.5" y2="523.35" stroke="#000" stroke-width="1.2"/>
<line x1="217.9" y1="517.66" x2="222.5" y2="517.66" stroke="#000" stroke-width="1.2"/>
<line x1="220.3" y1="511.97" x2="222.5" y2="511.97" stroke="#000" stroke-width="1.2"/>
<line x1="220.3" y1="506.28" x2="222.5" y2="506.28" stroke="#000" stroke-width="1.2"/>
<line x1="220.3" y1="500.59" x2="222.5" y2="500.59" stroke="#000" stroke-width="1.2"/>
<line x1="217.9" y1="494.90" x2="222.5" y2="494.90" stroke="#000" stroke-width="1.2"/>
<line x1="220.3" y1="489.21" x2="222.5" y2="489.21" stroke="#000" stroke-width="1.2"/>
<text x="205.87" y="612.10" font-size="12.00" fill="#231f20" color="#231f20" stroke-width="0.132" textLength="6.81" lengthAdjust="spacingAndGlyphs">0</text>
<text x="199.06" y="589.34" font-size="12.00" fill="#231f20" color="#231f20" stroke-width="0.132" textLength="13.61" lengthAdjust="spacingAndGlyphs">20</text>
<text x="199.06" y="566.58" font-size="12.00" fill="#231f20" color="#231f20" stroke-width="0.132" textLength="13.61" lengthAdjust="spacingAndGlyphs">40</text>
<text x="199.06" y="543.82" font-size="12.00" fill="#231f20" color="#231f20" stroke-width="0.132" textLength="13.61" lengthAdjust="spacingAndGlyphs">60</text>
<text x="199.06" y="521.06" font-size="12.00" fill="#231f20" color="#231f20" stroke-width="0.132" textLength="13.61" lengthAdjust="spacingAndGlyphs">80</text>
<text x="192.26" y="498.30" font-size="12.00" fill="#231f20" color="#231f20" stroke-width="0.132" textLength="20.42" lengthAdjust="spacingAndGlyphs">100</text>
<line x1="227.10" y1="608.7" x2="227.10" y2="611.7" stroke="#000" stroke-width="1.3"/>
<line x1="230.50" y1="608.7" x2="230.50" y2="611.7" stroke="#000" stroke-width="1.3"/>
<line x1="233.40" y1="608.7" x2="233.40" y2="611.7" stroke="#000" stroke-width="1.3"/>
<line x1="238.50" y1="608.7" x2="238.50" y2="611.7" stroke="#000" stroke-width="1.3"/>
<line x1="242.10" y1="608.7" x2="242.10" y2="611.7" stroke="#000" stroke-width="1.3"/>
<line x1="251.10" y1="608.7" x2="251.10" y2="611.7" stroke="#000" stroke-width="1.3"/>
<line x1="254.50" y1="608.7" x2="254.50" y2="611.7" stroke="#000" stroke-width="1.3"/>
<line x1="257.30" y1="608.7" x2="257.30" y2="611.7" stroke="#000" stroke-width="1.3"/>
<line x1="259.70" y1="608.7" x2="259.70" y2="611.7" stroke="#000" stroke-width="1.3"/>
<line x1="262.20" y1="608.7" x2="262.20" y2="611.7" stroke="#000" stroke-width="1.3"/>
<line x1="264.70" y1="608.7" x2="264.70" y2="611.7" stroke="#000" stroke-width="1.3"/>
<line x1="267.70" y1="608.7" x2="267.70" y2="611.7" stroke="#000" stroke-width="1.3"/>
<line x1="269.90" y1="608.7" x2="269.90" y2="611.7" stroke="#000" stroke-width="1.3"/>
<line x1="271.70" y1="608.7" x2="271.70" y2="611.7" stroke="#000" stroke-width="1.3"/>
<line x1="273.60" y1="608.7" x2="273.60" y2="611.7" stroke="#000" stroke-width="1.3"/>
<line x1="275.30" y1="608.7" x2="275.30" y2="611.7" stroke="#000" stroke-width="1.3"/>
<line x1="285.66" y1="608.7" x2="285.66" y2="611.7" stroke="#000" stroke-width="1.3"/>
<line x1="290.78" y1="608.7" x2="290.78" y2="611.7" stroke="#000" stroke-width="1.3"/>
<line x1="294.42" y1="608.7" x2="294.42" y2="611.7" stroke="#000" stroke-width="1.3"/>
<line x1="297.24" y1="608.7" x2="297.24" y2="611.7" stroke="#000" stroke-width="1.3"/>
<line x1="299.54" y1="608.7" x2="299.54" y2="611.7" stroke="#000" stroke-width="1.3"/>
<line x1="301.49" y1="608.7" x2="301.49" y2="611.7" stroke="#000" stroke-width="1.3"/>
<line x1="303.18" y1="608.7" x2="303.18" y2="611.7" stroke="#000" stroke-width="1.3"/>
<line x1="304.67" y1="608.7" x2="304.67" y2="611.7" stroke="#000" stroke-width="1.3"/>
<line x1="314.76" y1="608.7" x2="314.76" y2="611.7" stroke="#000" stroke-width="1.3"/>
<line x1="319.88" y1="608.7" x2="319.88" y2="611.7" stroke="#000" stroke-width="1.3"/>
<line x1="323.52" y1="608.7" x2="323.52" y2="611.7" stroke="#000" stroke-width="1.3"/>
<line x1="326.34" y1="608.7" x2="326.34" y2="611.7" stroke="#000" stroke-width="1.3"/>
<line x1="328.64" y1="608.7" x2="328.64" y2="611.7" stroke="#000" stroke-width="1.3"/>
<line x1="330.59" y1="608.7" x2="330.59" y2="611.7" stroke="#000" stroke-width="1.3"/>
<line x1="332.28" y1="608.7" x2="332.28" y2="611.7" stroke="#000" stroke-width="1.3"/>
<line x1="333.77" y1="608.7" x2="333.77" y2="611.7" stroke="#000" stroke-width="1.3"/>
<line x1="343.86" y1="608.7" x2="343.86" y2="611.7" stroke="#000" stroke-width="1.3"/>
<line x1="236.10" y1="608.7" x2="236.10" y2="613.3000000000001" stroke="#000" stroke-width="1.4"/>
<line x1="276.90" y1="608.7" x2="276.90" y2="613.3000000000001" stroke="#000" stroke-width="1.4"/>
<line x1="306.00" y1="608.7" x2="306.00" y2="613.3000000000001" stroke="#000" stroke-width="1.4"/>
<line x1="335.10" y1="608.7" x2="335.10" y2="613.3000000000001" stroke="#000" stroke-width="1.4"/>
<line x1="224.70" y1="608.7" x2="224.70" y2="612.7" stroke="#000" stroke-width="1.3"/>
<line x1="247.10" y1="608.7" x2="247.10" y2="612.7" stroke="#000" stroke-width="1.3"/>
<text x="233.31" y="629.00" font-size="11.60" fill="#231f20" color="#231f20" stroke-width="0.128" textLength="6.98" lengthAdjust="spacingAndGlyphs">0</text>
<text x="267.78" y="629.00" font-size="12.40" fill="#231f20" color="#231f20" stroke-width="0.136" textLength="13.39" lengthAdjust="spacingAndGlyphs">10</text>
<text x="281.78" y="624.40" font-size="9.00" fill="#231f20" color="#231f20" stroke-width="0.099" textLength="4.69" lengthAdjust="spacingAndGlyphs">3</text>
<text x="297.28" y="629.00" font-size="12.40" fill="#231f20" color="#231f20" stroke-width="0.136" textLength="13.39" lengthAdjust="spacingAndGlyphs">10</text>
<text x="311.42" y="624.40" font-size="9.00" fill="#231f20" color="#231f20" stroke-width="0.099" textLength="4.41" lengthAdjust="spacingAndGlyphs">4</text>
<text x="326.78" y="629.00" font-size="12.40" fill="#231f20" color="#231f20" stroke-width="0.136" textLength="13.39" lengthAdjust="spacingAndGlyphs">10</text>
<text x="340.76" y="624.40" font-size="9.00" fill="#231f20" color="#231f20" stroke-width="0.099" textLength="4.69" lengthAdjust="spacingAndGlyphs">5</text>
<text x="263.53" y="504.70" font-size="12.00" fill="#379bca" color="#379bca" stroke-width="0.132" textLength="28.42" lengthAdjust="spacingAndGlyphs">1122</text>
<text x="296.95" y="507.80" font-size="12.00" fill="#aa1c44" color="#aa1c44" stroke-width="0.132" textLength="27.85" lengthAdjust="spacingAndGlyphs">1569</text>
<text x="228.66" y="526.60" font-size="12.00" fill="#ad733a" color="#ad733a" stroke-width="0.132" textLength="21.28" lengthAdjust="spacingAndGlyphs">255</text>
<text x="227.27" y="544.00" font-size="12.00" fill="#464a5a" color="#464a5a" stroke-width="0.132" textLength="20.81" lengthAdjust="spacingAndGlyphs">260</text>
<text x="232.57" y="475.60" font-size="15.00" fill="#231f20" color="#231f20" stroke-width="0.165" textLength="104.86" lengthAdjust="spacingAndGlyphs">Anti-HPA-9b P4</text>
<text x="408.23" y="515.60" font-size="11.50" fill="#231f20" color="#231f20" stroke-width="0.127" textLength="43.61" lengthAdjust="spacingAndGlyphs">Legend</text>
<line x1="409.3" y1="517.6" x2="451.0" y2="517.6" stroke="#3a3a3a" stroke-width="0.9"/>
<text x="408.86" y="533.30" font-size="11.30" fill="#464a5a" color="#464a5a" stroke-width="0.124" textLength="38.85" lengthAdjust="spacingAndGlyphs">9a cells</text>
<text x="408.84" y="550.50" font-size="11.30" fill="#ad733a" color="#ad733a" stroke-width="0.124" textLength="75.44" lengthAdjust="spacingAndGlyphs">9a cells + Neu</text>
<text x="408.85" y="567.80" font-size="11.30" fill="#379bca" color="#379bca" stroke-width="0.124" textLength="40.08" lengthAdjust="spacingAndGlyphs">9b cells</text>
<text x="408.83" y="585.10" font-size="11.30" fill="#aa1c44" color="#aa1c44" stroke-width="0.124" textLength="76.87" lengthAdjust="spacingAndGlyphs">9b cells + Neu</text>
</svg>
</body></html>
